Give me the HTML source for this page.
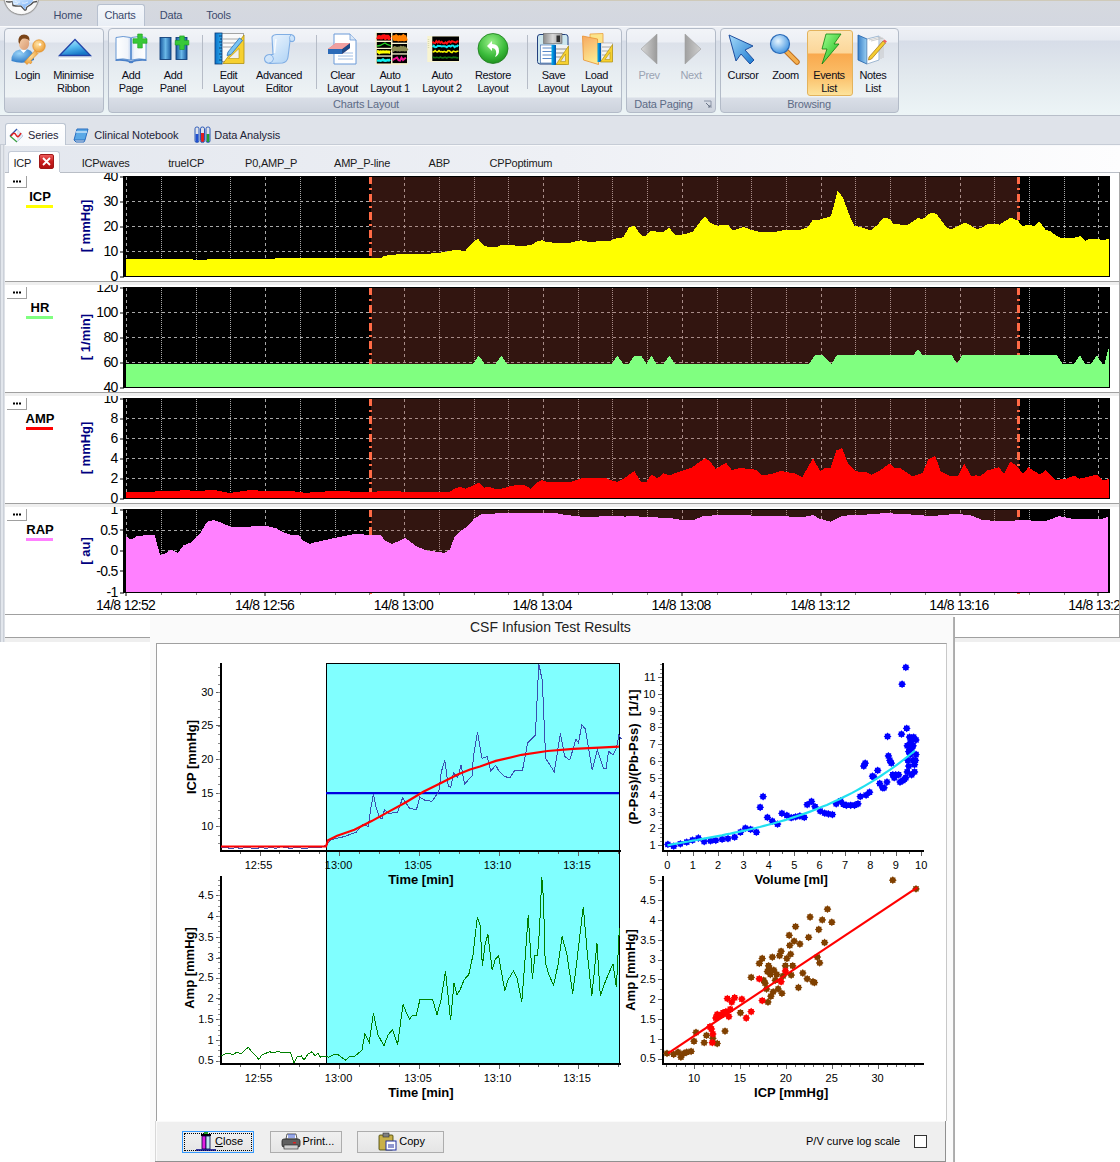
<!DOCTYPE html><html><head><meta charset="utf-8"><title>ICM+</title><style>
html,body{margin:0;padding:0;}
body{width:1120px;height:1162px;overflow:hidden;position:relative;background:#fff;font-family:"Liberation Sans", sans-serif;}
.t{position:absolute;white-space:nowrap;}
svg{position:absolute;left:0;top:0;overflow:visible;}
</style></head><body>
<div style="position:absolute;left:0px;top:0px;width:1120px;height:26px;background:linear-gradient(#d6d9df,#d3d7e0);"></div>
<div style="position:absolute;left:0px;top:0px;width:1120px;height:1px;background:#cfcab9;"></div>
<svg width="60" height="30" style="left:0;top:0"><defs><radialGradient id="apg" cx="0.5" cy="0.75" r="0.6"><stop offset="0" stop-color="#ffffff"/><stop offset="0.8" stop-color="#f2f2f2"/><stop offset="1" stop-color="#d8d8d8"/></radialGradient><linearGradient id="brg" x1="0" y1="0" x2="1" y2="1"><stop offset="0" stop-color="#d8ecff"/><stop offset="1" stop-color="#6aa8f8"/></linearGradient></defs><circle cx="21.3" cy="-2.3" r="18" fill="#a8a8a8" opacity="0.6"/><circle cx="21.3" cy="-2.6" r="17.2" fill="url(#apg)" stroke="#8c8c8c" stroke-width="0.8"/><path d="M6,1.5 Q9,2.5 12.5,1.5 L13,5.5 Q17,6.5 21,6 L24.5,10 Q26.5,10.5 26.5,8 L27,7 Q31,5 33.5,2 L37,1.5" fill="none" stroke="#303030" stroke-width="1.3" opacity="0.85"/><path d="M12.5,0 L12.8,3.5 Q14,5 18,5 Q21,5.2 22,5.8 L24.5,9 Q25.6,9.5 25.8,8 L25.5,6.5 Q30,4.5 32.8,1.5 L33,0 Z" fill="url(#brg)"/><path d="M15,1 Q17,3 20,2 M22,3 Q25,4 28,2 M14,3.5 Q16,4 18,3.5" stroke="#ffffff" stroke-width="0.8" fill="none" opacity="0.8"/></svg>
<div style="position:absolute;left:97px;top:4px;width:48px;height:22px;box-sizing:border-box;border:1px solid #b7c0cf;border-bottom:none;border-radius:3px 3px 0 0;background:linear-gradient(#f4f7fb,#e9eef5);"></div>
<div class="t" style="left:-132.2px;width:400px;text-align:center;top:7.8px;font-size:11px;line-height:14.3px;color:#3c4b6e;font-weight:normal;letter-spacing:-0.2px;">Home</div>
<div class="t" style="left:-80px;width:400px;text-align:center;top:7.8px;font-size:11px;line-height:14.3px;color:#3c4b6e;font-weight:normal;letter-spacing:-0.2px;">Charts</div>
<div class="t" style="left:-29px;width:400px;text-align:center;top:7.8px;font-size:11px;line-height:14.3px;color:#3c4b6e;font-weight:normal;letter-spacing:-0.2px;">Data</div>
<div class="t" style="left:18.5px;width:400px;text-align:center;top:7.8px;font-size:11px;line-height:14.3px;color:#3c4b6e;font-weight:normal;letter-spacing:-0.2px;">Tools</div>
<div style="position:absolute;left:0px;top:26px;width:1120px;height:90px;background:linear-gradient(#eef1f6 0px,#e6eaf1 14px,#d7dde8 15px,#e2e9ee 50px,#ecf4f6 87px);"></div>
<div style="position:absolute;left:0px;top:26px;width:1120px;height:1px;background:#f8f9fb;"></div>
<div style="position:absolute;left:0px;top:115px;width:1120px;height:1px;background:#b8bec9;"></div>
<div style="position:absolute;left:4px;top:28px;width:100.0px;height:85px;box-sizing:border-box;border:1px solid #b3bbc8;border-radius:4px;background:linear-gradient(#f2f4f8 0px,#eceff5 13px,#dce1ea 14px,#e6ecf1 40px,#eef3f5 68px,#d9dee7 69px,#ccd2dc 84px);overflow:hidden;"></div>
<div style="position:absolute;left:107.5px;top:28px;width:514.5px;height:85px;box-sizing:border-box;border:1px solid #b3bbc8;border-radius:4px;background:linear-gradient(#f2f4f8 0px,#eceff5 13px,#dce1ea 14px,#e6ecf1 40px,#eef3f5 68px,#d9dee7 69px,#ccd2dc 84px);overflow:hidden;"></div>
<div class="t" style="left:166px;width:400px;text-align:center;top:97.4px;font-size:11px;line-height:14.3px;color:#5d6b86;font-weight:normal;letter-spacing:-0.2px;">Charts Layout</div>
<div style="position:absolute;left:625.5px;top:28px;width:90.5px;height:85px;box-sizing:border-box;border:1px solid #b3bbc8;border-radius:4px;background:linear-gradient(#f2f4f8 0px,#eceff5 13px,#dce1ea 14px,#e6ecf1 40px,#eef3f5 68px,#d9dee7 69px,#ccd2dc 84px);overflow:hidden;"></div>
<div class="t" style="left:463.5px;width:400px;text-align:center;top:97.4px;font-size:11px;line-height:14.3px;color:#5d6b86;font-weight:normal;letter-spacing:-0.2px;">Data Paging</div>
<div style="position:absolute;left:719.5px;top:28px;width:179.0px;height:85px;box-sizing:border-box;border:1px solid #b3bbc8;border-radius:4px;background:linear-gradient(#f2f4f8 0px,#eceff5 13px,#dce1ea 14px,#e6ecf1 40px,#eef3f5 68px,#d9dee7 69px,#ccd2dc 84px);overflow:hidden;"></div>
<div class="t" style="left:609px;width:400px;text-align:center;top:97.4px;font-size:11px;line-height:14.3px;color:#5d6b86;font-weight:normal;letter-spacing:-0.2px;">Browsing</div>
<svg width="10" height="10" style="left:703px;top:100px"><path d="M1,1 H8 V8" fill="none" stroke="#8a94a6" stroke-width="1"/><path d="M3,3 L7,7 M5,7 H7 V5" stroke="#6a7486" stroke-width="1" fill="none"/></svg>
<div style="position:absolute;left:201.5px;top:35px;width:1px;height:54px;background:#b6bcc7;"></div>
<div style="position:absolute;left:315.5px;top:35px;width:1px;height:54px;background:#b6bcc7;"></div>
<div style="position:absolute;left:526.5px;top:35px;width:1px;height:54px;background:#b6bcc7;"></div>
<div style="position:absolute;left:807px;top:30px;width:46px;height:66px;box-sizing:border-box;border:1px solid #e3b35c;border-radius:3px;background:linear-gradient(#fde6b6 0px,#fcd699 22px,#f9a94e 23px,#fbbf69 45px,#fde59e 65px);"></div>
<div class="t" style="left:-172.5px;width:400px;text-align:center;top:67.8px;font-size:11px;line-height:14.3px;color:#0c0c18;font-weight:normal;letter-spacing:-0.35px;">Login</div>
<svg width="32" height="32" viewBox="0 0 32 32" style="left:11px;top:33px">
<defs><radialGradient id="lgb" cx="0.35" cy="0.3" r="0.8"><stop offset="0" stop-color="#9ad4f8"/><stop offset="1" stop-color="#1c6cc0"/></radialGradient>
<radialGradient id="lgk" cx="0.4" cy="0.35" r="0.7"><stop offset="0" stop-color="#ffe4a8"/><stop offset="1" stop-color="#eb9a30"/></radialGradient>
<linearGradient id="lgf" x1="0" y1="0" x2="1" y2="1"><stop offset="0" stop-color="#f8d4b0"/><stop offset="1" stop-color="#d89870"/></linearGradient></defs>
<path d="M0.5,28 Q0,18 9,16.5 L17,16.5 Q23,18 23,27 Q12,32 0.5,28 Z" fill="url(#lgb)"/>
<path d="M9,16.5 L12.5,20 L16,16.5 Z" fill="#fff"/>
<ellipse cx="13" cy="10" rx="5.2" ry="7" fill="url(#lgf)"/>
<path d="M7.5,9 Q7,1.5 13,1.5 Q19,1.5 18.5,8 Q17,5 13,5.5 Q9.5,5.5 8.5,11 Z" fill="#7a4418"/>
<circle cx="28" cy="13" r="6.2" fill="url(#lgk)" stroke="#e08a20" stroke-width="0.7"/>
<circle cx="29" cy="11.5" r="1.3" fill="#fff"/>
<path d="M24,17.5 L13.5,29 L16,31.5 L18,29.5 L19.5,31 L21,29 L20,27.5 L27,20.5 Z" fill="url(#lgk)" stroke="#e08a20" stroke-width="0.6"/>
</svg>
<div class="t" style="left:-126.5px;width:400px;text-align:center;top:67.8px;font-size:11px;line-height:14.3px;color:#0c0c18;font-weight:normal;letter-spacing:-0.35px;">Minimise</div>
<div class="t" style="left:-126.5px;width:400px;text-align:center;top:80.8px;font-size:11px;line-height:14.3px;color:#0c0c18;font-weight:normal;letter-spacing:-0.35px;">Ribbon</div>
<svg width="32" height="32" viewBox="0 0 32 32" style="left:58px;top:33px">
<defs><linearGradient id="mng" x1="0" y1="0" x2="0.4" y2="1"><stop offset="0" stop-color="#d0f0fc"/><stop offset="0.55" stop-color="#58bcf0"/><stop offset="1" stop-color="#1878c8"/></linearGradient></defs>
<path d="M1.5,22.5 L17,6.5 L32.5,22.5 Z" fill="url(#mng)" stroke="#2244a8" stroke-width="1.3" stroke-linejoin="miter"/>
<rect x="1" y="25" width="32" height="1.4" fill="#fff"/>
</svg>
<div class="t" style="left:-69px;width:400px;text-align:center;top:67.8px;font-size:11px;line-height:14.3px;color:#0c0c18;font-weight:normal;letter-spacing:-0.35px;">Add</div>
<div class="t" style="left:-69px;width:400px;text-align:center;top:80.8px;font-size:11px;line-height:14.3px;color:#0c0c18;font-weight:normal;letter-spacing:-0.35px;">Page</div>
<svg width="32" height="32" viewBox="0 0 32 32" style="left:115px;top:33px">
<defs><linearGradient id="apg1" x1="0" y1="0" x2="1" y2="0"><stop offset="0" stop-color="#ffffff"/><stop offset="0.8" stop-color="#f0f4fa"/><stop offset="1" stop-color="#c8d8f0"/></linearGradient>
<linearGradient id="apg2" x1="0" y1="0" x2="1" y2="0"><stop offset="0" stop-color="#c8d8f0"/><stop offset="0.2" stop-color="#f0f4fa"/><stop offset="1" stop-color="#ffffff"/></linearGradient></defs>
<path d="M1,4.5 Q8,2.5 15.5,4.5 L15.5,27 Q8,25 1,26.5 Z" fill="url(#apg1)" stroke="#5a8ed0" stroke-width="0.9"/>
<path d="M16.5,4.5 Q24,2.5 31,4.5 L31,26.5 Q24,25 16.5,27 Z" fill="url(#apg2)" stroke="#5a8ed0" stroke-width="0.9"/>
<path d="M0.5,26.5 Q8,25 16,28 Q24,25 31.5,26.5 L31.5,28 Q24,27 16,29.5 Q8,27 0.5,28 Z" fill="#4a80c8"/>
<ellipse cx="16" cy="29" rx="2.5" ry="1.3" fill="#4a80c8"/>
<path d="M18,5.7 H22.7 V1 H27.3 V5.7 H32 V10.3 H27.3 V15 H22.7 V10.3 H18 Z" fill="#38c838" stroke="#18a018" stroke-width="0.6"/>
</svg>
<div class="t" style="left:-27px;width:400px;text-align:center;top:67.8px;font-size:11px;line-height:14.3px;color:#0c0c18;font-weight:normal;letter-spacing:-0.35px;">Add</div>
<div class="t" style="left:-27px;width:400px;text-align:center;top:80.8px;font-size:11px;line-height:14.3px;color:#0c0c18;font-weight:normal;letter-spacing:-0.35px;">Panel</div>
<svg width="32" height="32" viewBox="0 0 32 32" style="left:158px;top:33px">
<defs><linearGradient id="apb" x1="0" y1="0" x2="1" y2="0"><stop offset="0" stop-color="#1a5aa0"/><stop offset="0.5" stop-color="#6ab8e8"/><stop offset="1" stop-color="#1a5aa0"/></linearGradient></defs>
<rect x="2" y="4.5" width="11" height="22" fill="url(#apb)" stroke="#12407a" stroke-width="0.9"/>
<rect x="18" y="4.5" width="11" height="22" fill="url(#apb)" stroke="#12407a" stroke-width="0.9"/>
<path d="M17.2,7.3999999999999995 H21.7 V2.8999999999999995 H26.3 V7.3999999999999995 H30.8 V12.0 H26.3 V16.5 H21.7 V12.0 H17.2 Z" fill="#38c838" stroke="#18a018" stroke-width="0.6"/>
</svg>
<div class="t" style="left:28.5px;width:400px;text-align:center;top:67.8px;font-size:11px;line-height:14.3px;color:#0c0c18;font-weight:normal;letter-spacing:-0.35px;">Edit</div>
<div class="t" style="left:28.5px;width:400px;text-align:center;top:80.8px;font-size:11px;line-height:14.3px;color:#0c0c18;font-weight:normal;letter-spacing:-0.35px;">Layout</div>
<svg width="32" height="32" viewBox="0 0 32 32" style="left:213px;top:33px">
<defs><linearGradient id="elr" x1="0" y1="0" x2="1" y2="0"><stop offset="0" stop-color="#0a70c8"/><stop offset="1" stop-color="#30b0f0"/></linearGradient></defs>
<rect x="8" y="0.5" width="22.5" height="28" fill="#fafafa" stroke="#909090" stroke-width="0.8"/>
<path d="M10,6 H28 M10,10 H28 M10,14 H28" stroke="#a0a0a0" stroke-width="0.9"/>
<rect x="2" y="0" width="7" height="31" fill="url(#elr)" stroke="#0a3a78" stroke-width="0.8"/>
<path d="M6,3 H9 M7,6 H9 M6,9 H9 M7,12 H9 M6,15 H9 M7,18 H9 M6,21 H9 M7,24 H9 M6,27 H9" stroke="#0a2a60" stroke-width="0.8"/>
<path d="M10,30.5 L31,2 L31,30.5 Z" fill="#f6d030" stroke="#b09010" stroke-width="0.8"/>
<path d="M15.5,25.5 L26,15.5 L26,25.5 Z" fill="#f0f0f0" stroke="#b09010" stroke-width="0.6"/>
<path d="M15,19 L26.5,5 L29.5,7.5 L18,21.5 L14,22.5 Z" fill="#7ac4f4" stroke="#2a70b8" stroke-width="0.8"/>
</svg>
<div class="t" style="left:79px;width:400px;text-align:center;top:67.8px;font-size:11px;line-height:14.3px;color:#0c0c18;font-weight:normal;letter-spacing:-0.35px;">Advanced</div>
<div class="t" style="left:79px;width:400px;text-align:center;top:80.8px;font-size:11px;line-height:14.3px;color:#0c0c18;font-weight:normal;letter-spacing:-0.35px;">Editor</div>
<svg width="32" height="32" viewBox="0 0 32 32" style="left:264px;top:33px">
<defs><linearGradient id="aeg" x1="0" y1="0" x2="1" y2="1"><stop offset="0" stop-color="#f4f9ff"/><stop offset="1" stop-color="#a8cff4"/></linearGradient></defs>
<path d="M8,4 Q9.5,1 14,1.5 L27,1.5 Q31.5,2.5 30.5,7 Q29,9.5 26,8 L24,24 Q23.5,29 18.5,30 L6,30.5 Q0.5,30 0.5,25.5 Q1.5,21.5 6,21.5 L9,21.5 Z" fill="url(#aeg)" stroke="#80aee4" stroke-width="1.1"/>
<path d="M6,21.5 Q9.5,22.5 9.5,26 Q8.5,30 5,30" fill="#cfe4fa" stroke="#80aee4" stroke-width="0.9"/>
<path d="M26,8 Q24.5,4 27,1.5" fill="none" stroke="#80aee4" stroke-width="0.9"/>
<path d="M12,6 Q11,14 10.5,20" stroke="#ffffff" stroke-width="1.5" fill="none" opacity="0.8"/>
</svg>
<div class="t" style="left:142.5px;width:400px;text-align:center;top:67.8px;font-size:11px;line-height:14.3px;color:#0c0c18;font-weight:normal;letter-spacing:-0.35px;">Clear</div>
<div class="t" style="left:142.5px;width:400px;text-align:center;top:80.8px;font-size:11px;line-height:14.3px;color:#0c0c18;font-weight:normal;letter-spacing:-0.35px;">Layout</div>
<svg width="32" height="32" viewBox="0 0 32 32" style="left:326px;top:33px">
<path d="M8,1 H24 L30,7 V31 H8 Z" fill="#fff" stroke="#6a9ad8" stroke-width="1"/>
<path d="M24,1 V7 H30" fill="#dce8f6" stroke="#6a9ad8" stroke-width="0.8"/>
<path d="M12,20 H27 M12,23 H27 M12,26 H27" stroke="#8ab0e0" stroke-width="0.8"/>
<path d="M2,16 L10,10 L24,10 L24,15 L16,21 L2,21 Z" fill="#e86060"/>
<path d="M2,16 L16,16 L16,21 L2,21 Z" fill="#2a6ab8"/>
<path d="M16,16 L24,10 L24,15 L16,21 Z" fill="#1a4a88"/>
<path d="M2,16 L10,10 L24,10 L16,16 Z" fill="#f0a0a0"/>
</svg>
<div class="t" style="left:190px;width:400px;text-align:center;top:67.8px;font-size:11px;line-height:14.3px;color:#0c0c18;font-weight:normal;letter-spacing:-0.35px;">Auto</div>
<div class="t" style="left:190px;width:400px;text-align:center;top:80.8px;font-size:11px;line-height:14.3px;color:#0c0c18;font-weight:normal;letter-spacing:-0.35px;">Layout 1</div>
<svg width="32" height="32" viewBox="0 0 32 32" style="left:375px;top:33px">
<rect x="0.5" y="-0.5" width="32" height="32.3" fill="#f8f2cc"/>
<rect x="1.8" y="0" width="14.2" height="7.6" fill="#000"/>
<rect x="1.8" y="9" width="14.2" height="5.8" fill="#000"/>
<rect x="1.8" y="16" width="14.2" height="6.4" fill="#000"/>
<rect x="1.8" y="23.7" width="14.2" height="6.8" fill="#000"/>
<rect x="17.5" y="0" width="14.5" height="9.7" fill="#000"/>
<rect x="17.5" y="11" width="14.5" height="9.3" fill="#000"/>
<rect x="17.5" y="21.6" width="14.5" height="8.5" fill="#000"/>
<path d="M2.0,3.8 L3.2,4.3 L4.4,4.0 L5.6,4.4 L6.8,4.4 L8.0,3.5 L9.2,3.4 L10.4,4.7 L11.6,3.8 L12.8,3.8 L14.0,5.0 L15.2,4.2" stroke="#ff1010" stroke-width="4" fill="none"/>
<path d="M17.5,5.5 L18.7,5.0 L19.9,5.2 L21.1,4.4 L22.3,5.2 L23.5,5.6 L24.7,5.0 L25.9,5.4 L27.1,5.3 L28.3,4.3 L29.5,5.4 L30.7,5.1 L31.9,4.7" stroke="#ff8000" stroke-width="5.5" fill="none"/>
<path d="M2,13 L5,12.5 L8,11 L10,10 L12,11.5 L14,12 L16,13" stroke="#20d020" stroke-width="1.3" fill="none"/>
<path d="M17.5,14.7 L18.7,16.1 L19.9,15.5 L21.1,15.9 L22.3,16.1 L23.5,15.8 L24.7,16.2 L25.9,15.3 L27.1,16.0 L28.3,15.4 L29.5,16.2 L30.7,16.1 L31.9,14.9" stroke="#8a8a50" stroke-width="4.5" fill="none"/>
<path d="M2.0,18.6 L3.2,18.7 L4.4,19.6 L5.6,18.9 L6.8,19.2 L8.0,18.8 L9.2,19.0 L10.4,18.9 L11.6,18.8 L12.8,19.1 L14.0,19.1 L15.2,19.5" stroke="#ffff00" stroke-width="3" fill="none"/>
<path d="M2.0,27.2 L3.2,27.5 L4.4,27.4 L5.6,27.6 L6.8,27.2 L8.0,26.6 L9.2,27.4 L10.4,27.6 L11.6,27.5 L12.8,27.1 L14.0,27.3 L15.2,26.7" stroke="#10f0f0" stroke-width="2.6" fill="none"/>
<path d="M17.5,27.1 L19.0,26.2 L20.5,25.3 L22.0,24.6 L23.5,27.1 L25.0,27.6 L26.5,24.7 L28.0,27.0 L29.5,25.7 L31.0,24.9" stroke="#f01090" stroke-width="2" fill="none"/>
</svg>
<div class="t" style="left:242px;width:400px;text-align:center;top:67.8px;font-size:11px;line-height:14.3px;color:#0c0c18;font-weight:normal;letter-spacing:-0.35px;">Auto</div>
<div class="t" style="left:242px;width:400px;text-align:center;top:80.8px;font-size:11px;line-height:14.3px;color:#0c0c18;font-weight:normal;letter-spacing:-0.35px;">Layout 2</div>
<svg width="32" height="32" viewBox="0 0 32 32" style="left:427px;top:33px">
<rect x="0.3" y="3" width="32" height="26" fill="#f8f4d0"/>
<rect x="5.3" y="3.5" width="26.7" height="24.5" fill="#000"/>
<path d="M1.5,6 V16" stroke="#d8d8b0" stroke-width="1.5" stroke-dasharray="1 1"/>
<path d="M5.5,8.8 L6.8,9.9 L8.1,10.2 L9.4,8.2 L10.7,9.6 L12.0,8.2 L13.3,9.8 L14.6,8.9 L15.9,10.2 L17.2,10.5 L18.5,9.3 L19.8,10.5 L21.1,8.8 L22.4,8.3 L23.7,9.5 L25.0,8.2 L26.3,8.6 L27.6,9.1 L28.9,9.6 L30.2,8.5 L31.5,8.2" stroke="#ff1010" stroke-width="2" fill="none"/>
<path d="M5.5,14.0 L6.8,12.7 L8.1,14.2 L9.4,14.1 L10.7,12.8 L12.0,13.0 L13.3,13.1 L14.6,13.4 L15.9,13.3 L17.2,13.2 L18.5,13.4 L19.8,14.2 L21.1,13.1 L22.4,12.9 L23.7,13.6 L25.0,12.5 L26.3,12.6 L27.6,14.2 L28.9,13.2 L30.2,13.2 L31.5,11.9" stroke="#10e8f0" stroke-width="2" fill="none"/>
<path d="M5.5,18.4 L6.8,18.8 L8.1,17.6 L9.4,18.8 L10.7,18.9 L12.0,17.7 L13.3,18.9 L14.6,18.5 L15.9,19.0 L17.2,18.3 L18.5,19.0 L19.8,19.1 L21.1,17.6 L22.4,17.7 L23.7,19.0 L25.0,19.5 L26.3,18.1 L27.6,18.5 L28.9,18.8 L30.2,18.2 L31.5,18.3" stroke="#f0f000" stroke-width="1.6" fill="none"/>
<path d="M5.5,24.4 L6.8,24.4 L8.1,24.7 L9.4,24.4 L10.7,24.5 L12.0,24.9 L13.3,24.0 L14.6,24.7 L15.9,24.9 L17.2,24.4 L18.5,24.3 L19.8,25.0 L21.1,24.3 L22.4,24.2 L23.7,24.5 L25.0,24.8 L26.3,24.1 L27.6,24.4 L28.9,24.4 L30.2,25.0 L31.5,24.5" stroke="#107010" stroke-width="1.6" fill="none"/>
</svg>
<div class="t" style="left:293px;width:400px;text-align:center;top:67.8px;font-size:11px;line-height:14.3px;color:#0c0c18;font-weight:normal;letter-spacing:-0.35px;">Restore</div>
<div class="t" style="left:293px;width:400px;text-align:center;top:80.8px;font-size:11px;line-height:14.3px;color:#0c0c18;font-weight:normal;letter-spacing:-0.35px;">Layout</div>
<svg width="32" height="32" viewBox="0 0 32 32" style="left:477px;top:33px">
<defs><radialGradient id="rsg" cx="0.45" cy="0.3" r="0.75"><stop offset="0" stop-color="#9af08a"/><stop offset="0.6" stop-color="#3cbc3c"/><stop offset="1" stop-color="#1a8a1a"/></radialGradient></defs>
<circle cx="16" cy="15.5" r="15" fill="url(#rsg)" stroke="#1a7a1a" stroke-width="0.8"/>
<path d="M10,13 L15,8 L15,11 Q22,11 22,18 Q22,22 18,24 Q20,21 19,18 Q18,15 15,15 L15,18 Z" fill="#fff"/>
</svg>
<div class="t" style="left:353.5px;width:400px;text-align:center;top:67.8px;font-size:11px;line-height:14.3px;color:#0c0c18;font-weight:normal;letter-spacing:-0.35px;">Save</div>
<div class="t" style="left:353.5px;width:400px;text-align:center;top:80.8px;font-size:11px;line-height:14.3px;color:#0c0c18;font-weight:normal;letter-spacing:-0.35px;">Layout</div>
<svg width="32" height="32" viewBox="0 0 32 32" style="left:537px;top:33px">
<defs><linearGradient id="svsh" x1="0" y1="0" x2="1" y2="0"><stop offset="0" stop-color="#8a8a8a"/><stop offset="0.5" stop-color="#d8d8d8"/><stop offset="1" stop-color="#9a9a9a"/></linearGradient>
<linearGradient id="svrl" x1="0" y1="0" x2="1" y2="0"><stop offset="0" stop-color="#00b0f0"/><stop offset="1" stop-color="#0050b0"/></linearGradient></defs>
<rect x="0.5" y="1.5" width="30.5" height="29.5" rx="2.5" fill="#cde6ee" stroke="#23407e" stroke-width="1"/>
<rect x="6.5" y="0.5" width="18.5" height="10" fill="url(#svsh)" stroke="#6a6a6a" stroke-width="0.6"/>
<rect x="19.5" y="2.5" width="3.5" height="6.5" fill="#303030"/>
<rect x="3.5" y="12" width="14" height="18" fill="#ffffff" stroke="#3060a8" stroke-width="0.6"/>
<path d="M5.5,15 H16 M5.5,18.5 H16 M5.5,22 H16 M5.5,25.5 H16" stroke="#5a88c8" stroke-width="1"/>
<rect x="18.5" y="12" width="13" height="19" fill="#f2f2f2"/><path d="M19,16 H31 M19,20 H31 M19,24 H31" stroke="#b0b0b0" stroke-width="1.4"/>
<rect x="14.5" y="12" width="4.5" height="20" fill="url(#svrl)"/>
<path d="M19,31.5 L31.5,13 L31.5,31.5 Z" fill="#f6d030" stroke="#b09010" stroke-width="0.7"/>
<path d="M23.5,28.5 L28.5,21 L28.5,28.5 Z" fill="#e8e8e8" stroke="#b09010" stroke-width="0.6"/>
</svg>
<div class="t" style="left:396.5px;width:400px;text-align:center;top:67.8px;font-size:11px;line-height:14.3px;color:#0c0c18;font-weight:normal;letter-spacing:-0.35px;">Load</div>
<div class="t" style="left:396.5px;width:400px;text-align:center;top:80.8px;font-size:11px;line-height:14.3px;color:#0c0c18;font-weight:normal;letter-spacing:-0.35px;">Layout</div>
<svg width="32" height="32" viewBox="0 0 32 32" style="left:581px;top:33px">
<defs><linearGradient id="ldg" x1="0" y1="0" x2="0.3" y2="1"><stop offset="0" stop-color="#f6a860"/><stop offset="1" stop-color="#fde890"/></linearGradient>
<linearGradient id="ldr" x1="0" y1="0" x2="1" y2="0"><stop offset="0" stop-color="#00b0f0"/><stop offset="1" stop-color="#0050b0"/></linearGradient></defs>
<path d="M9,1 L22,0.5 L22,26 L9,28 Z" fill="#fbe48a" stroke="#eaa040" stroke-width="0.8"/>
<path d="M1.5,3 L16.5,6 L17.5,31.5 L2.5,27 Z" fill="url(#ldg)" stroke="#e89030" stroke-width="0.8"/>
<rect x="20" y="10" width="11.5" height="18" fill="#f4f4f4" stroke="#9a9a9a" stroke-width="0.5"/>
<path d="M21,14 H30 M21,18 H30 M21,22 H30" stroke="#a8a8a8" stroke-width="1.2"/>
<rect x="16.5" y="10" width="3.5" height="19" fill="url(#ldr)"/>
<path d="M19.5,29 L31.5,11.5 L31.5,29 Z" fill="#f6d030" stroke="#b09010" stroke-width="0.7"/>
<path d="M24,26.5 L29,19.5 L29,26.5 Z" fill="#e8e8e8" stroke="#b09010" stroke-width="0.6"/>
</svg>
<div class="t" style="left:449px;width:400px;text-align:center;top:67.8px;font-size:11px;line-height:14.3px;color:#9aa3b3;font-weight:normal;letter-spacing:-0.35px;">Prev</div>
<svg width="32" height="32" viewBox="0 0 32 32" style="left:633px;top:33px">
<defs><linearGradient id="pvg" x1="0" y1="0" x2="1" y2="0"><stop offset="0" stop-color="#d8d8d8"/><stop offset="1" stop-color="#9a9a9a"/></linearGradient></defs>
<path d="M8,16 L24,1 L24,31 Z" fill="url(#pvg)" stroke="#a0a0a0" stroke-width="0.6"/>
</svg>
<div class="t" style="left:491px;width:400px;text-align:center;top:67.8px;font-size:11px;line-height:14.3px;color:#9aa3b3;font-weight:normal;letter-spacing:-0.35px;">Next</div>
<svg width="32" height="32" viewBox="0 0 32 32" style="left:675px;top:33px">
<defs><linearGradient id="nxg" x1="0" y1="0" x2="1" y2="0"><stop offset="0" stop-color="#a0a0a0"/><stop offset="1" stop-color="#cfcfcf"/></linearGradient></defs>
<path d="M10,1 L26,16 L10,31 Z" fill="url(#nxg)" stroke="#a0a0a0" stroke-width="0.6"/>
</svg>
<div class="t" style="left:543px;width:400px;text-align:center;top:67.8px;font-size:11px;line-height:14.3px;color:#0c0c18;font-weight:normal;letter-spacing:-0.35px;">Cursor</div>
<svg width="32" height="32" viewBox="0 0 32 32" style="left:727px;top:33px">
<defs><linearGradient id="crg" x1="0" y1="0" x2="1" y2="1"><stop offset="0" stop-color="#a8dcfa"/><stop offset="1" stop-color="#1a78d0"/></linearGradient></defs>
<path d="M2,2 L26,13 L18,17 L27,27 L23,31 L14,21 L9,28 Z" fill="url(#crg)" stroke="#1f4f9f" stroke-width="1"/>
</svg>
<div class="t" style="left:585.5px;width:400px;text-align:center;top:67.8px;font-size:11px;line-height:14.3px;color:#0c0c18;font-weight:normal;letter-spacing:-0.35px;">Zoom</div>
<svg width="32" height="32" viewBox="0 0 32 32" style="left:769px;top:33px">
<defs><radialGradient id="zmg" cx="0.4" cy="0.35" r="0.7"><stop offset="0" stop-color="#e8f6ff"/><stop offset="1" stop-color="#3a90e0"/></radialGradient></defs>
<path d="M17,18 L28,29" stroke="#c07020" stroke-width="5.5" stroke-linecap="round"/>
<path d="M17,18 L28,29" stroke="#f4b050" stroke-width="3.5" stroke-linecap="round"/>
<circle cx="11" cy="11" r="9.5" fill="url(#zmg)" stroke="#2a6ab8" stroke-width="1.2"/>
</svg>
<div class="t" style="left:629px;width:400px;text-align:center;top:67.8px;font-size:11px;line-height:14.3px;color:#0c0c18;font-weight:normal;letter-spacing:-0.35px;">Events</div>
<div class="t" style="left:629px;width:400px;text-align:center;top:80.8px;font-size:11px;line-height:14.3px;color:#0c0c18;font-weight:normal;letter-spacing:-0.35px;">List</div>
<svg width="32" height="32" viewBox="0 0 32 32" style="left:813px;top:33px">
<defs><linearGradient id="evg" x1="0" y1="0" x2="1" y2="1"><stop offset="0" stop-color="#a0ff90"/><stop offset="1" stop-color="#10b010"/></linearGradient></defs>
<path d="M13,1 L28,1 L21,11 L26,11 L9,31 L14,16 L9,16 Z" fill="url(#evg)" stroke="#108010" stroke-width="0.8"/>
</svg>
<div class="t" style="left:673px;width:400px;text-align:center;top:67.8px;font-size:11px;line-height:14.3px;color:#0c0c18;font-weight:normal;letter-spacing:-0.35px;">Notes</div>
<div class="t" style="left:673px;width:400px;text-align:center;top:80.8px;font-size:11px;line-height:14.3px;color:#0c0c18;font-weight:normal;letter-spacing:-0.35px;">List</div>
<svg width="32" height="32" viewBox="0 0 32 32" style="left:857px;top:33px">
<defs><linearGradient id="ntg" x1="0" y1="0" x2="1" y2="0"><stop offset="0" stop-color="#3a80c8"/><stop offset="1" stop-color="#9ad0f4"/></linearGradient></defs>
<path d="M1,2 L10,6 L10,31 L1,27 Z" fill="url(#ntg)" stroke="#1d5ea8" stroke-width="0.8"/>
<path d="M10,6 L22,3 L22,27 L10,31 Z" fill="#fff" stroke="#8aa8c8" stroke-width="0.8"/>
<path d="M12,7 L24,4 L24,26 M14,8 L26,5 L26,25" fill="none" stroke="#c0c0c0" stroke-width="0.8"/>
<path d="M12,24 L26,8 L28.5,10 L14.5,26 L11.5,27 Z" fill="#f4cc30" stroke="#a07010" stroke-width="0.7"/>
<path d="M26,8 L27.5,6.5 L30,8.5 L28.5,10 Z" fill="#f06060"/>
</svg>
<div style="position:absolute;left:0px;top:116px;width:1120px;height:29px;background:#dfe3ea;"></div>
<div style="position:absolute;left:4.5px;top:122.5px;width:61px;height:23.5px;box-sizing:border-box;border:1px solid #bcc5d2;border-bottom:none;border-radius:3px 3px 0 0;background:linear-gradient(#ffffff,#f7f9fc);"></div>
<div class="t" style="left:28px;top:127.8px;font-size:11px;line-height:14.3px;color:#1e2438;font-weight:normal;letter-spacing:-0.15px;">Series</div>
<div class="t" style="left:94.3px;top:127.8px;font-size:11px;line-height:14.3px;color:#1e2438;font-weight:normal;letter-spacing:-0.08px;">Clinical Notebook</div>
<div class="t" style="left:214.3px;top:127.8px;font-size:11px;line-height:14.3px;color:#1e2438;font-weight:normal;letter-spacing:-0.05px;">Data Analysis</div>
<svg width="20" height="16" style="left:8px;top:127px"><path d="M2,9 L9,2" stroke="#2b4fa8" stroke-width="1.2"/><path d="M2,9 L9,15" stroke="#3aa040" stroke-width="1.2"/><path d="M9,15 L15,9 L9,2" fill="#dfe9f5" stroke="#b8c8e0" stroke-width="0.8"/><path d="M3,9 Q6,4 8,8 T13,6" fill="none" stroke="#e02020" stroke-width="1.6"/></svg>
<svg width="18" height="16" style="left:73px;top:127px"><path d="M4,2 H15 L12,13 H1 Z" fill="#5aa9e6" stroke="#2a6fc0" stroke-width="1"/><path d="M3,5 H14" stroke="#c8e4fa" stroke-width="1.5"/><path d="M1,13 L3,15 H11 L12,13" fill="none" stroke="#2a6fc0" stroke-width="1"/></svg>
<svg width="18" height="18" style="left:194px;top:126px"><rect x="1.5" y="8" width="3" height="8" fill="#2050d0"/><rect x="7" y="7" width="3" height="9" fill="#e02020"/><rect x="12.5" y="8" width="3" height="8" fill="#20a030"/><rect x="1" y="1" width="4" height="15.5" rx="1.8" fill="none" stroke="#2a58b8"/><rect x="6.5" y="1" width="4" height="15.5" rx="1.8" fill="none" stroke="#2a58b8"/><rect x="12" y="1" width="4" height="15.5" rx="1.8" fill="none" stroke="#2a58b8"/></svg>
<div style="position:absolute;left:0px;top:144px;width:5px;height:1px;background:#c6ccd6;"></div>
<div style="position:absolute;left:65.5px;top:144px;width:1055px;height:1px;background:#c6ccd6;"></div>
<div style="position:absolute;left:0px;top:145px;width:1120px;height:27px;background:linear-gradient(90deg,#e3e7ee 0px,#eef0f5 560px,#fdfdfe 1120px);"></div>
<div style="position:absolute;left:5px;top:145px;width:1115px;height:1px;background:#f8f9fb;"></div>
<div style="position:absolute;left:8px;top:151px;width:52px;height:23px;box-sizing:border-box;border:1px solid #c3cad6;border-bottom:none;border-radius:3px 3px 0 0;background:#ffffff;"></div>
<div style="position:absolute;left:39px;top:154px;width:15px;height:15px;box-sizing:border-box;border:1px solid #a01818;border-radius:2px;background:linear-gradient(#ee5a5a,#c81e1e 50%,#b01010);"></div>
<svg width="15" height="15" style="left:39px;top:154px"><path d="M4,4 L11,11 M11,4 L4,11" stroke="#fff" stroke-width="1.8"/></svg>
<div class="t" style="left:13.4px;top:155.8px;font-size:11px;line-height:14.3px;color:#1a1a1a;font-weight:normal;letter-spacing:-0.2px;">ICP</div>
<div class="t" style="left:81.7px;top:155.8px;font-size:11px;line-height:14.3px;color:#1a1a1a;font-weight:normal;letter-spacing:-0.2px;">ICPwaves</div>
<div class="t" style="left:168.2px;top:155.8px;font-size:11px;line-height:14.3px;color:#1a1a1a;font-weight:normal;letter-spacing:-0.2px;">trueICP</div>
<div class="t" style="left:245px;top:155.8px;font-size:11px;line-height:14.3px;color:#1a1a1a;font-weight:normal;letter-spacing:-0.2px;">P0,AMP_P</div>
<div class="t" style="left:334px;top:155.8px;font-size:11px;line-height:14.3px;color:#1a1a1a;font-weight:normal;letter-spacing:-0.2px;">AMP_P-line</div>
<div class="t" style="left:428.5px;top:155.8px;font-size:11px;line-height:14.3px;color:#1a1a1a;font-weight:normal;letter-spacing:-0.2px;">ABP</div>
<div class="t" style="left:489.5px;top:155.8px;font-size:11px;line-height:14.3px;color:#1a1a1a;font-weight:normal;letter-spacing:-0.2px;">CPPoptimum</div>
<div style="position:absolute;left:0px;top:145px;width:5px;height:497px;background:linear-gradient(90deg,#c4c9d1 0px,#c4c9d1 1px,#e2e6ec 1.5px,#e2e6ec 2.5px,#ccd1d9 3px,#ccd1d9 4px,#f0f2f5 5px);"></div>
<div style="position:absolute;left:5px;top:172px;width:1114px;height:470px;background:#ffffff;"></div>
<div style="position:absolute;left:5px;top:172px;width:3.5px;height:1px;background:#b9bec6;"></div>
<div style="position:absolute;left:59.5px;top:172px;width:1060.5px;height:1px;background:#b9bec6;"></div>
<div style="position:absolute;left:1119px;top:172px;width:1px;height:466px;background:#a8a8a8;"></div>
<div style="position:absolute;left:5px;top:173px;width:1114px;height:108px;overflow:hidden;">
<div style="position:absolute;left:2px;top:3px;width:20px;height:12px;box-sizing:border-box;border-right:1px solid #a0a0a0;border-bottom:1px solid #a0a0a0;"></div>
<svg width="20" height="12" style="left:2px;top:3px"><rect x="6" y="4.5" width="2" height="2" fill="#000"/><rect x="9" y="4.5" width="2" height="2" fill="#000"/><rect x="12" y="4.5" width="2" height="2" fill="#000"/></svg>
<div class="t" style="left:10px;width:50px;text-align:center;top:16px;font-size:13px;line-height:16px;font-weight:bold;color:#000;">ICP</div>
<div style="position:absolute;left:21px;top:32px;width:27px;height:3px;background:#ffff00;"></div>
<div class="t" style="left:30.5px;top:45.0px;width:100px;height:16px;line-height:16px;text-align:center;font-size:13px;font-weight:bold;color:#000080;transform:rotate(-90deg);">[ mmHg]</div>
<div class="t" style="left:52.599999999999994px;width:60px;text-align:right;top:-5px;font-size:14px;line-height:16px;letter-spacing:-0.7px;color:#000;">40</div>
<div class="t" style="left:52.599999999999994px;width:60px;text-align:right;top:20.400000000000006px;font-size:14px;line-height:16px;letter-spacing:-0.7px;color:#000;">30</div>
<div class="t" style="left:52.599999999999994px;width:60px;text-align:right;top:45.30000000000001px;font-size:14px;line-height:16px;letter-spacing:-0.7px;color:#000;">20</div>
<div class="t" style="left:52.599999999999994px;width:60px;text-align:right;top:70.1px;font-size:14px;line-height:16px;letter-spacing:-0.7px;color:#000;">10</div>
<div class="t" style="left:52.599999999999994px;width:60px;text-align:right;top:95px;font-size:14px;line-height:16px;letter-spacing:-0.7px;color:#000;">0</div>
<svg width="1120" height="108" viewBox="5 173 1120 108" style="left:0;top:0" shape-rendering="crispEdges"><rect x="120" y="175.5" width="4" height="2" fill="#808080"/><rect x="120" y="200.9" width="4" height="2" fill="#808080"/><rect x="120" y="225.8" width="4" height="2" fill="#808080"/><rect x="120" y="250.6" width="4" height="2" fill="#808080"/><rect x="120" y="275.5" width="4" height="2" fill="#808080"/><rect x="124" y="176" width="986" height="101" fill="#000"/><rect x="370.5" y="177" width="648.0" height="99" fill="#321510"/><path d="M126,201.5 H370" stroke="#a8a8a8" stroke-dasharray="3 3" shape-rendering="crispEdges"/><path d="M373,201.5 H1018" stroke="#a88c88" stroke-dasharray="3 3" shape-rendering="crispEdges"/><path d="M1021,201.5 H1109" stroke="#a8a8a8" stroke-dasharray="3 3" shape-rendering="crispEdges"/><path d="M126,226.5 H370" stroke="#a8a8a8" stroke-dasharray="3 3" shape-rendering="crispEdges"/><path d="M373,226.5 H1018" stroke="#a88c88" stroke-dasharray="3 3" shape-rendering="crispEdges"/><path d="M1021,226.5 H1109" stroke="#a8a8a8" stroke-dasharray="3 3" shape-rendering="crispEdges"/><path d="M126,251.5 H370" stroke="#a8a8a8" stroke-dasharray="3 3" shape-rendering="crispEdges"/><path d="M373,251.5 H1018" stroke="#a88c88" stroke-dasharray="3 3" shape-rendering="crispEdges"/><path d="M1021,251.5 H1109" stroke="#a8a8a8" stroke-dasharray="3 3" shape-rendering="crispEdges"/><path d="M126.5,177 V276" stroke="#a8a8a8" stroke-dasharray="3 3"/><path d="M161.5,177 V276" stroke="#a8a8a8" stroke-dasharray="1 1"/><path d="M196.5,177 V276" stroke="#a8a8a8" stroke-dasharray="1 1"/><path d="M230.5,177 V276" stroke="#a8a8a8" stroke-dasharray="1 1"/><path d="M265.5,177 V276" stroke="#a8a8a8" stroke-dasharray="3 3"/><path d="M300.5,177 V276" stroke="#a8a8a8" stroke-dasharray="1 1"/><path d="M335.5,177 V276" stroke="#a8a8a8" stroke-dasharray="1 1"/><path d="M404.5,177 V276" stroke="#a88c88" stroke-dasharray="3 3"/><path d="M439.5,177 V276" stroke="#a88c88" stroke-dasharray="1 1"/><path d="M474.5,177 V276" stroke="#a88c88" stroke-dasharray="1 1"/><path d="M508.5,177 V276" stroke="#a88c88" stroke-dasharray="1 1"/><path d="M543.5,177 V276" stroke="#a88c88" stroke-dasharray="3 3"/><path d="M578.5,177 V276" stroke="#a88c88" stroke-dasharray="1 1"/><path d="M612.5,177 V276" stroke="#a88c88" stroke-dasharray="1 1"/><path d="M647.5,177 V276" stroke="#a88c88" stroke-dasharray="1 1"/><path d="M682.5,177 V276" stroke="#a88c88" stroke-dasharray="3 3"/><path d="M717.5,177 V276" stroke="#a88c88" stroke-dasharray="1 1"/><path d="M751.5,177 V276" stroke="#a88c88" stroke-dasharray="1 1"/><path d="M786.5,177 V276" stroke="#a88c88" stroke-dasharray="1 1"/><path d="M821.5,177 V276" stroke="#a88c88" stroke-dasharray="3 3"/><path d="M855.5,177 V276" stroke="#a88c88" stroke-dasharray="1 1"/><path d="M890.5,177 V276" stroke="#a88c88" stroke-dasharray="1 1"/><path d="M925.5,177 V276" stroke="#a88c88" stroke-dasharray="1 1"/><path d="M960.5,177 V276" stroke="#a88c88" stroke-dasharray="3 3"/><path d="M994.5,177 V276" stroke="#a88c88" stroke-dasharray="1 1"/><path d="M1029.5,177 V276" stroke="#a8a8a8" stroke-dasharray="1 1"/><path d="M1064.5,177 V276" stroke="#a8a8a8" stroke-dasharray="1 1"/><path d="M1098.5,177 V276" stroke="#a8a8a8" stroke-dasharray="3 3"/><path d="M370.5,176 V278" stroke="#ff6a45" stroke-width="3" stroke-dasharray="8 4 2 4" shape-rendering="auto"/><path d="M1018.5,176 V278" stroke="#ff6a45" stroke-width="3" stroke-dasharray="8 4 2 4" shape-rendering="auto"/><path d="M126.0,276.0 L126.0,259.0 L150.0,259.5 L175.0,259.0 L200.0,259.7 L225.0,259.0 L250.0,259.5 L275.0,258.5 L300.0,258.0 L330.0,258.3 L360.0,258.0 L365.0,258.1 L381.7,257.5 L384.0,255.9 L399.6,254.1 L411.9,254.3 L423.0,254.0 L438.7,253.0 L454.3,250.1 L465.4,250.8 L469.9,245.2 L477.7,238.5 L483.3,245.2 L488.9,247.4 L496.7,247.0 L501.2,245.2 L510.0,245.2 L521.3,245.9 L531.3,245.2 L536.9,241.4 L542.5,240.3 L545.8,241.8 L557.0,243.0 L568.0,243.4 L576.0,241.2 L581.5,240.3 L588.0,241.8 L599.4,241.4 L610.5,240.7 L616.7,238.0 L623.4,237.4 L629.0,226.9 L634.6,226.2 L641.2,235.2 L645.7,236.3 L651.3,230.7 L662.5,232.5 L669.2,228.0 L675.8,235.2 L685.9,234.0 L692.6,231.8 L699.3,222.9 L704.9,216.2 L710.4,222.9 L717.1,225.6 L728.3,225.1 L732.8,230.7 L743.9,226.9 L751.7,230.0 L761.8,232.3 L773.0,232.3 L784.1,230.0 L799.7,230.0 L807.5,227.3 L813.1,219.5 L819.8,219.5 L831.0,216.2 L837.7,190.5 L843.3,198.3 L848.8,214.0 L854.4,225.6 L860.0,226.9 L864.2,228.3 L871.0,230.4 L878.0,224.2 L883.7,217.3 L889.4,219.1 L894.0,224.2 L907.8,224.9 L918.1,218.0 L922.7,219.1 L930.7,212.7 L936.5,213.9 L946.8,227.6 L951.4,229.5 L965.1,222.4 L976.6,228.8 L981.2,228.3 L988.1,223.5 L999.6,224.6 L1011.0,217.3 L1017.9,220.7 L1022.5,226.0 L1029.4,224.6 L1034.0,226.5 L1039.7,221.4 L1045.5,229.9 L1050.0,231.0 L1058.0,236.8 L1061.5,238.4 L1075.3,237.5 L1081.0,236.1 L1085.6,241.0 L1089.0,239.1 L1098.2,239.1 L1102.8,240.2 L1108.5,239.1 L1108.5,276.0 Z" fill="#ffff00" shape-rendering="crispEdges"/><rect x="124.5" y="176.5" width="985" height="100" fill="none" stroke="#000" stroke-width="1"/><path d="M124,176 V277" stroke="#000" stroke-width="2"/><path d="M124,276.5 H1110" stroke="#000" stroke-width="1"/></svg>
</div>
<div style="position:absolute;left:5px;top:281px;width:1114px;height:1px;background:#a0a0a0;"></div>
<div style="position:absolute;left:5px;top:282px;width:1114px;height:3px;background:#efefef;"></div>
<div style="position:absolute;left:5px;top:285px;width:1114px;height:107px;overflow:hidden;">
<div style="position:absolute;left:2px;top:2px;width:20px;height:12px;box-sizing:border-box;border-right:1px solid #a0a0a0;border-bottom:1px solid #a0a0a0;"></div>
<svg width="20" height="12" style="left:2px;top:2px"><rect x="6" y="4.5" width="2" height="2" fill="#000"/><rect x="9" y="4.5" width="2" height="2" fill="#000"/><rect x="12" y="4.5" width="2" height="2" fill="#000"/></svg>
<div class="t" style="left:10px;width:50px;text-align:center;top:15px;font-size:13px;line-height:16px;font-weight:bold;color:#000;">HR</div>
<div style="position:absolute;left:21px;top:31px;width:27px;height:3px;background:#80ff80;"></div>
<div class="t" style="left:30.5px;top:44.0px;width:100px;height:16px;line-height:16px;text-align:center;font-size:13px;font-weight:bold;color:#000080;transform:rotate(-90deg);">[ 1/min]</div>
<div class="t" style="left:52.599999999999994px;width:60px;text-align:right;top:-6px;font-size:14px;line-height:16px;letter-spacing:-0.7px;color:#000;">120</div>
<div class="t" style="left:52.599999999999994px;width:60px;text-align:right;top:19px;font-size:14px;line-height:16px;letter-spacing:-0.7px;color:#000;">100</div>
<div class="t" style="left:52.599999999999994px;width:60px;text-align:right;top:44px;font-size:14px;line-height:16px;letter-spacing:-0.7px;color:#000;">80</div>
<div class="t" style="left:52.599999999999994px;width:60px;text-align:right;top:69px;font-size:14px;line-height:16px;letter-spacing:-0.7px;color:#000;">60</div>
<div class="t" style="left:52.599999999999994px;width:60px;text-align:right;top:94px;font-size:14px;line-height:16px;letter-spacing:-0.7px;color:#000;">40</div>
<svg width="1120" height="107" viewBox="5 285 1120 107" style="left:0;top:0" shape-rendering="crispEdges"><rect x="120" y="286.5" width="4" height="2" fill="#808080"/><rect x="120" y="311.5" width="4" height="2" fill="#808080"/><rect x="120" y="336.5" width="4" height="2" fill="#808080"/><rect x="120" y="361.5" width="4" height="2" fill="#808080"/><rect x="120" y="386.5" width="4" height="2" fill="#808080"/><rect x="124" y="287" width="986" height="101" fill="#000"/><rect x="370.5" y="288" width="648.0" height="99" fill="#321510"/><path d="M126,312.5 H370" stroke="#a8a8a8" stroke-dasharray="3 3" shape-rendering="crispEdges"/><path d="M373,312.5 H1018" stroke="#a88c88" stroke-dasharray="3 3" shape-rendering="crispEdges"/><path d="M1021,312.5 H1109" stroke="#a8a8a8" stroke-dasharray="3 3" shape-rendering="crispEdges"/><path d="M126,337.5 H370" stroke="#a8a8a8" stroke-dasharray="3 3" shape-rendering="crispEdges"/><path d="M373,337.5 H1018" stroke="#a88c88" stroke-dasharray="3 3" shape-rendering="crispEdges"/><path d="M1021,337.5 H1109" stroke="#a8a8a8" stroke-dasharray="3 3" shape-rendering="crispEdges"/><path d="M126,362.5 H370" stroke="#a8a8a8" stroke-dasharray="3 3" shape-rendering="crispEdges"/><path d="M373,362.5 H1018" stroke="#a88c88" stroke-dasharray="3 3" shape-rendering="crispEdges"/><path d="M1021,362.5 H1109" stroke="#a8a8a8" stroke-dasharray="3 3" shape-rendering="crispEdges"/><path d="M126.5,288 V387" stroke="#a8a8a8" stroke-dasharray="3 3"/><path d="M161.5,288 V387" stroke="#a8a8a8" stroke-dasharray="1 1"/><path d="M196.5,288 V387" stroke="#a8a8a8" stroke-dasharray="1 1"/><path d="M230.5,288 V387" stroke="#a8a8a8" stroke-dasharray="1 1"/><path d="M265.5,288 V387" stroke="#a8a8a8" stroke-dasharray="3 3"/><path d="M300.5,288 V387" stroke="#a8a8a8" stroke-dasharray="1 1"/><path d="M335.5,288 V387" stroke="#a8a8a8" stroke-dasharray="1 1"/><path d="M404.5,288 V387" stroke="#a88c88" stroke-dasharray="3 3"/><path d="M439.5,288 V387" stroke="#a88c88" stroke-dasharray="1 1"/><path d="M474.5,288 V387" stroke="#a88c88" stroke-dasharray="1 1"/><path d="M508.5,288 V387" stroke="#a88c88" stroke-dasharray="1 1"/><path d="M543.5,288 V387" stroke="#a88c88" stroke-dasharray="3 3"/><path d="M578.5,288 V387" stroke="#a88c88" stroke-dasharray="1 1"/><path d="M612.5,288 V387" stroke="#a88c88" stroke-dasharray="1 1"/><path d="M647.5,288 V387" stroke="#a88c88" stroke-dasharray="1 1"/><path d="M682.5,288 V387" stroke="#a88c88" stroke-dasharray="3 3"/><path d="M717.5,288 V387" stroke="#a88c88" stroke-dasharray="1 1"/><path d="M751.5,288 V387" stroke="#a88c88" stroke-dasharray="1 1"/><path d="M786.5,288 V387" stroke="#a88c88" stroke-dasharray="1 1"/><path d="M821.5,288 V387" stroke="#a88c88" stroke-dasharray="3 3"/><path d="M855.5,288 V387" stroke="#a88c88" stroke-dasharray="1 1"/><path d="M890.5,288 V387" stroke="#a88c88" stroke-dasharray="1 1"/><path d="M925.5,288 V387" stroke="#a88c88" stroke-dasharray="1 1"/><path d="M960.5,288 V387" stroke="#a88c88" stroke-dasharray="3 3"/><path d="M994.5,288 V387" stroke="#a88c88" stroke-dasharray="1 1"/><path d="M1029.5,288 V387" stroke="#a8a8a8" stroke-dasharray="1 1"/><path d="M1064.5,288 V387" stroke="#a8a8a8" stroke-dasharray="1 1"/><path d="M1098.5,288 V387" stroke="#a8a8a8" stroke-dasharray="3 3"/><path d="M370.5,287 V389" stroke="#ff6a45" stroke-width="3" stroke-dasharray="8 4 2 4" shape-rendering="auto"/><path d="M1018.5,287 V389" stroke="#ff6a45" stroke-width="3" stroke-dasharray="8 4 2 4" shape-rendering="auto"/><path d="M126.0,387.0 L126.0,363.8 L473.0,363.8 L478.8,355.6 L484.6,363.8 L495.5,363.8 L501.3,355.6 L507.1,363.8 L611.6,363.8 L617.4,355.6 L623.2,363.8 L628.6,363.8 L634.4,355.6 L641.0,355.6 L646.6,363.8 L646.5,363.8 L651.5,355.6 L656.5,363.8 L663.5,363.8 L669.3,355.6 L675.1,363.8 L809.0,363.8 L815.0,355.3 L823.0,355.3 L831.7,363.8 L836.8,355.3 L913.0,355.3 L918.0,349.5 L923.0,355.3 L952.0,355.3 L957.0,363.8 L962.0,355.3 L1057.0,355.3 L1062.5,363.8 L1074.0,363.8 L1080.0,355.3 L1085.0,363.8 L1091.0,363.8 L1097.0,355.3 L1102.0,363.8 L1104.5,363.8 L1108.5,348.5 L1108.5,387.0 Z" fill="#80ff80" shape-rendering="crispEdges"/><rect x="124.5" y="287.5" width="985" height="100" fill="none" stroke="#000" stroke-width="1"/><path d="M124,287 V388" stroke="#000" stroke-width="2"/><path d="M124,387.5 H1110" stroke="#000" stroke-width="1"/></svg>
</div>
<div style="position:absolute;left:5px;top:392px;width:1114px;height:1px;background:#a0a0a0;"></div>
<div style="position:absolute;left:5px;top:393px;width:1114px;height:3px;background:#efefef;"></div>
<div style="position:absolute;left:5px;top:396px;width:1114px;height:107px;overflow:hidden;">
<div style="position:absolute;left:2px;top:2px;width:20px;height:12px;box-sizing:border-box;border-right:1px solid #a0a0a0;border-bottom:1px solid #a0a0a0;"></div>
<svg width="20" height="12" style="left:2px;top:2px"><rect x="6" y="4.5" width="2" height="2" fill="#000"/><rect x="9" y="4.5" width="2" height="2" fill="#000"/><rect x="12" y="4.5" width="2" height="2" fill="#000"/></svg>
<div class="t" style="left:10px;width:50px;text-align:center;top:15px;font-size:13px;line-height:16px;font-weight:bold;color:#000;">AMP</div>
<div style="position:absolute;left:21px;top:31px;width:27px;height:3px;background:#ff0000;"></div>
<div class="t" style="left:30.5px;top:44.0px;width:100px;height:16px;line-height:16px;text-align:center;font-size:13px;font-weight:bold;color:#000080;transform:rotate(-90deg);">[ mmHg]</div>
<div class="t" style="left:52.599999999999994px;width:60px;text-align:right;top:-6px;font-size:14px;line-height:16px;letter-spacing:-0.7px;color:#000;">10</div>
<div class="t" style="left:52.599999999999994px;width:60px;text-align:right;top:14px;font-size:14px;line-height:16px;letter-spacing:-0.7px;color:#000;">8</div>
<div class="t" style="left:52.599999999999994px;width:60px;text-align:right;top:34px;font-size:14px;line-height:16px;letter-spacing:-0.7px;color:#000;">6</div>
<div class="t" style="left:52.599999999999994px;width:60px;text-align:right;top:54px;font-size:14px;line-height:16px;letter-spacing:-0.7px;color:#000;">4</div>
<div class="t" style="left:52.599999999999994px;width:60px;text-align:right;top:74px;font-size:14px;line-height:16px;letter-spacing:-0.7px;color:#000;">2</div>
<div class="t" style="left:52.599999999999994px;width:60px;text-align:right;top:94px;font-size:14px;line-height:16px;letter-spacing:-0.7px;color:#000;">0</div>
<svg width="1120" height="107" viewBox="5 396 1120 107" style="left:0;top:0" shape-rendering="crispEdges"><rect x="120" y="397.5" width="4" height="2" fill="#808080"/><rect x="120" y="417.5" width="4" height="2" fill="#808080"/><rect x="120" y="437.5" width="4" height="2" fill="#808080"/><rect x="120" y="457.5" width="4" height="2" fill="#808080"/><rect x="120" y="477.5" width="4" height="2" fill="#808080"/><rect x="120" y="497.5" width="4" height="2" fill="#808080"/><rect x="124" y="398" width="986" height="101" fill="#000"/><rect x="370.5" y="399" width="648.0" height="99" fill="#321510"/><path d="M126,418.5 H370" stroke="#a8a8a8" stroke-dasharray="3 3" shape-rendering="crispEdges"/><path d="M373,418.5 H1018" stroke="#a88c88" stroke-dasharray="3 3" shape-rendering="crispEdges"/><path d="M1021,418.5 H1109" stroke="#a8a8a8" stroke-dasharray="3 3" shape-rendering="crispEdges"/><path d="M126,438.5 H370" stroke="#a8a8a8" stroke-dasharray="3 3" shape-rendering="crispEdges"/><path d="M373,438.5 H1018" stroke="#a88c88" stroke-dasharray="3 3" shape-rendering="crispEdges"/><path d="M1021,438.5 H1109" stroke="#a8a8a8" stroke-dasharray="3 3" shape-rendering="crispEdges"/><path d="M126,458.5 H370" stroke="#a8a8a8" stroke-dasharray="3 3" shape-rendering="crispEdges"/><path d="M373,458.5 H1018" stroke="#a88c88" stroke-dasharray="3 3" shape-rendering="crispEdges"/><path d="M1021,458.5 H1109" stroke="#a8a8a8" stroke-dasharray="3 3" shape-rendering="crispEdges"/><path d="M126,478.5 H370" stroke="#a8a8a8" stroke-dasharray="3 3" shape-rendering="crispEdges"/><path d="M373,478.5 H1018" stroke="#a88c88" stroke-dasharray="3 3" shape-rendering="crispEdges"/><path d="M1021,478.5 H1109" stroke="#a8a8a8" stroke-dasharray="3 3" shape-rendering="crispEdges"/><path d="M126.5,399 V498" stroke="#a8a8a8" stroke-dasharray="3 3"/><path d="M161.5,399 V498" stroke="#a8a8a8" stroke-dasharray="1 1"/><path d="M196.5,399 V498" stroke="#a8a8a8" stroke-dasharray="1 1"/><path d="M230.5,399 V498" stroke="#a8a8a8" stroke-dasharray="1 1"/><path d="M265.5,399 V498" stroke="#a8a8a8" stroke-dasharray="3 3"/><path d="M300.5,399 V498" stroke="#a8a8a8" stroke-dasharray="1 1"/><path d="M335.5,399 V498" stroke="#a8a8a8" stroke-dasharray="1 1"/><path d="M404.5,399 V498" stroke="#a88c88" stroke-dasharray="3 3"/><path d="M439.5,399 V498" stroke="#a88c88" stroke-dasharray="1 1"/><path d="M474.5,399 V498" stroke="#a88c88" stroke-dasharray="1 1"/><path d="M508.5,399 V498" stroke="#a88c88" stroke-dasharray="1 1"/><path d="M543.5,399 V498" stroke="#a88c88" stroke-dasharray="3 3"/><path d="M578.5,399 V498" stroke="#a88c88" stroke-dasharray="1 1"/><path d="M612.5,399 V498" stroke="#a88c88" stroke-dasharray="1 1"/><path d="M647.5,399 V498" stroke="#a88c88" stroke-dasharray="1 1"/><path d="M682.5,399 V498" stroke="#a88c88" stroke-dasharray="3 3"/><path d="M717.5,399 V498" stroke="#a88c88" stroke-dasharray="1 1"/><path d="M751.5,399 V498" stroke="#a88c88" stroke-dasharray="1 1"/><path d="M786.5,399 V498" stroke="#a88c88" stroke-dasharray="1 1"/><path d="M821.5,399 V498" stroke="#a88c88" stroke-dasharray="3 3"/><path d="M855.5,399 V498" stroke="#a88c88" stroke-dasharray="1 1"/><path d="M890.5,399 V498" stroke="#a88c88" stroke-dasharray="1 1"/><path d="M925.5,399 V498" stroke="#a88c88" stroke-dasharray="1 1"/><path d="M960.5,399 V498" stroke="#a88c88" stroke-dasharray="3 3"/><path d="M994.5,399 V498" stroke="#a88c88" stroke-dasharray="1 1"/><path d="M1029.5,399 V498" stroke="#a8a8a8" stroke-dasharray="1 1"/><path d="M1064.5,399 V498" stroke="#a8a8a8" stroke-dasharray="1 1"/><path d="M1098.5,399 V498" stroke="#a8a8a8" stroke-dasharray="3 3"/><path d="M370.5,398 V500" stroke="#ff6a45" stroke-width="3" stroke-dasharray="8 4 2 4" shape-rendering="auto"/><path d="M1018.5,398 V500" stroke="#ff6a45" stroke-width="3" stroke-dasharray="8 4 2 4" shape-rendering="auto"/><path d="M126.0,498.0 L126.0,492.5 L130.0,491.5 L140.0,491.8 L150.0,492.0 L160.0,491.0 L170.0,491.0 L180.0,490.5 L185.0,490.0 L195.0,491.0 L205.0,490.5 L212.0,489.8 L220.0,491.0 L229.0,493.0 L240.0,491.5 L252.0,489.8 L262.0,491.0 L275.0,491.5 L290.0,491.0 L300.0,492.0 L305.0,493.0 L315.0,492.0 L325.0,491.5 L340.0,491.0 L350.0,491.5 L360.0,492.5 L371.6,491.8 L394.8,490.6 L406.4,492.2 L434.3,492.2 L450.5,491.5 L455.2,488.3 L459.8,486.9 L465.6,488.7 L473.7,485.3 L478.4,482.5 L484.2,487.6 L488.8,486.9 L494.6,488.7 L501.6,488.7 L510.9,486.0 L517.8,484.8 L524.8,485.3 L530.6,488.7 L536.4,483.0 L542.2,480.0 L546.9,481.8 L557.3,482.5 L571.2,481.8 L581.7,478.3 L606.0,478.3 L610.7,480.0 L617.0,481.8 L624.0,478.3 L634.4,470.9 L640.2,481.3 L646.0,482.5 L651.3,474.4 L657.6,478.3 L663.4,473.2 L669.2,475.5 L675.0,473.2 L682.0,470.9 L691.2,467.9 L705.2,458.1 L709.8,460.9 L715.6,469.0 L726.0,462.7 L731.9,470.2 L740.0,467.9 L756.2,469.7 L762.0,475.5 L772.5,473.7 L780.6,470.9 L788.7,472.5 L795.7,473.7 L802.2,477.1 L813.1,458.1 L820.1,471.3 L825.9,467.4 L830.5,468.3 L836.3,450.4 L842.1,448.1 L847.9,463.2 L856.0,471.3 L866.8,472.3 L871.4,474.6 L880.5,470.0 L889.6,463.5 L894.2,467.8 L901.0,468.5 L912.4,476.4 L922.6,473.0 L928.3,459.4 L935.1,455.9 L940.8,471.4 L951.0,476.4 L957.9,476.4 L964.3,463.9 L971.6,476.4 L976.1,475.3 L980.7,476.0 L987.5,470.3 L998.9,467.3 L1003.9,473.7 L1010.3,461.6 L1017.1,466.2 L1022.8,473.7 L1028.5,467.3 L1039.9,474.6 L1045.6,470.3 L1055.8,479.8 L1064.9,479.2 L1074.0,475.7 L1079.7,478.7 L1096.8,474.6 L1103.6,480.5 L1108.6,479.2 L1108.6,498.0 Z" fill="#ff0000" shape-rendering="crispEdges"/><rect x="124.5" y="398.5" width="985" height="100" fill="none" stroke="#000" stroke-width="1"/><path d="M124,398 V499" stroke="#000" stroke-width="2"/><path d="M124,498.5 H1110" stroke="#000" stroke-width="1"/></svg>
</div>
<div style="position:absolute;left:5px;top:503px;width:1114px;height:1px;background:#a0a0a0;"></div>
<div style="position:absolute;left:5px;top:504px;width:1114px;height:3px;background:#efefef;"></div>
<div style="position:absolute;left:5px;top:507px;width:1114px;height:107px;overflow:hidden;">
<div style="position:absolute;left:2px;top:2px;width:20px;height:12px;box-sizing:border-box;border-right:1px solid #a0a0a0;border-bottom:1px solid #a0a0a0;"></div>
<svg width="20" height="12" style="left:2px;top:2px"><rect x="6" y="4.5" width="2" height="2" fill="#000"/><rect x="9" y="4.5" width="2" height="2" fill="#000"/><rect x="12" y="4.5" width="2" height="2" fill="#000"/></svg>
<div class="t" style="left:10px;width:50px;text-align:center;top:15px;font-size:13px;line-height:16px;font-weight:bold;color:#000;">RAP</div>
<div style="position:absolute;left:21px;top:31px;width:27px;height:3px;background:#ff80ff;"></div>
<div class="t" style="left:30.5px;top:35.5px;width:100px;height:16px;line-height:16px;text-align:center;font-size:13px;font-weight:bold;color:#000080;transform:rotate(-90deg);">[ au]</div>
<div class="t" style="left:52.599999999999994px;width:60px;text-align:right;top:-6px;font-size:14px;line-height:16px;letter-spacing:-0.7px;color:#000;">1</div>
<div class="t" style="left:52.599999999999994px;width:60px;text-align:right;top:14.799999999999955px;font-size:14px;line-height:16px;letter-spacing:-0.7px;color:#000;">0.5</div>
<div class="t" style="left:52.599999999999994px;width:60px;text-align:right;top:35px;font-size:14px;line-height:16px;letter-spacing:-0.7px;color:#000;">0</div>
<div class="t" style="left:52.599999999999994px;width:60px;text-align:right;top:55.60000000000002px;font-size:14px;line-height:16px;letter-spacing:-0.7px;color:#000;">-0.5</div>
<div class="t" style="left:52.599999999999994px;width:60px;text-align:right;top:77px;font-size:14px;line-height:16px;letter-spacing:-0.7px;color:#000;">-1</div>
<svg width="1120" height="107" viewBox="5 507 1120 107" style="left:0;top:0" shape-rendering="crispEdges"><rect x="120" y="508.5" width="4" height="2" fill="#808080"/><rect x="120" y="529.3" width="4" height="2" fill="#808080"/><rect x="120" y="549.5" width="4" height="2" fill="#808080"/><rect x="120" y="570.1" width="4" height="2" fill="#808080"/><rect x="120" y="591.5" width="4" height="2" fill="#808080"/><rect x="124" y="509" width="986" height="84" fill="#000"/><rect x="370.5" y="510" width="648.0" height="82" fill="#321510"/><path d="M126,530.5 H370" stroke="#a8a8a8" stroke-dasharray="3 3" shape-rendering="crispEdges"/><path d="M373,530.5 H1018" stroke="#a88c88" stroke-dasharray="3 3" shape-rendering="crispEdges"/><path d="M1021,530.5 H1109" stroke="#a8a8a8" stroke-dasharray="3 3" shape-rendering="crispEdges"/><path d="M126,550.5 H370" stroke="#a8a8a8" stroke-dasharray="3 3" shape-rendering="crispEdges"/><path d="M373,550.5 H1018" stroke="#a88c88" stroke-dasharray="3 3" shape-rendering="crispEdges"/><path d="M1021,550.5 H1109" stroke="#a8a8a8" stroke-dasharray="3 3" shape-rendering="crispEdges"/><path d="M126,571.5 H370" stroke="#a8a8a8" stroke-dasharray="3 3" shape-rendering="crispEdges"/><path d="M373,571.5 H1018" stroke="#a88c88" stroke-dasharray="3 3" shape-rendering="crispEdges"/><path d="M1021,571.5 H1109" stroke="#a8a8a8" stroke-dasharray="3 3" shape-rendering="crispEdges"/><path d="M126.5,510 V592" stroke="#a8a8a8" stroke-dasharray="3 3"/><path d="M161.5,510 V592" stroke="#a8a8a8" stroke-dasharray="1 1"/><path d="M196.5,510 V592" stroke="#a8a8a8" stroke-dasharray="1 1"/><path d="M230.5,510 V592" stroke="#a8a8a8" stroke-dasharray="1 1"/><path d="M265.5,510 V592" stroke="#a8a8a8" stroke-dasharray="3 3"/><path d="M300.5,510 V592" stroke="#a8a8a8" stroke-dasharray="1 1"/><path d="M335.5,510 V592" stroke="#a8a8a8" stroke-dasharray="1 1"/><path d="M404.5,510 V592" stroke="#a88c88" stroke-dasharray="3 3"/><path d="M439.5,510 V592" stroke="#a88c88" stroke-dasharray="1 1"/><path d="M474.5,510 V592" stroke="#a88c88" stroke-dasharray="1 1"/><path d="M508.5,510 V592" stroke="#a88c88" stroke-dasharray="1 1"/><path d="M543.5,510 V592" stroke="#a88c88" stroke-dasharray="3 3"/><path d="M578.5,510 V592" stroke="#a88c88" stroke-dasharray="1 1"/><path d="M612.5,510 V592" stroke="#a88c88" stroke-dasharray="1 1"/><path d="M647.5,510 V592" stroke="#a88c88" stroke-dasharray="1 1"/><path d="M682.5,510 V592" stroke="#a88c88" stroke-dasharray="3 3"/><path d="M717.5,510 V592" stroke="#a88c88" stroke-dasharray="1 1"/><path d="M751.5,510 V592" stroke="#a88c88" stroke-dasharray="1 1"/><path d="M786.5,510 V592" stroke="#a88c88" stroke-dasharray="1 1"/><path d="M821.5,510 V592" stroke="#a88c88" stroke-dasharray="3 3"/><path d="M855.5,510 V592" stroke="#a88c88" stroke-dasharray="1 1"/><path d="M890.5,510 V592" stroke="#a88c88" stroke-dasharray="1 1"/><path d="M925.5,510 V592" stroke="#a88c88" stroke-dasharray="1 1"/><path d="M960.5,510 V592" stroke="#a88c88" stroke-dasharray="3 3"/><path d="M994.5,510 V592" stroke="#a88c88" stroke-dasharray="1 1"/><path d="M1029.5,510 V592" stroke="#a8a8a8" stroke-dasharray="1 1"/><path d="M1064.5,510 V592" stroke="#a8a8a8" stroke-dasharray="1 1"/><path d="M1098.5,510 V592" stroke="#a8a8a8" stroke-dasharray="3 3"/><path d="M370.5,509 V594" stroke="#ff6a45" stroke-width="3" stroke-dasharray="8 4 2 4" shape-rendering="auto"/><path d="M1018.5,509 V594" stroke="#ff6a45" stroke-width="3" stroke-dasharray="8 4 2 4" shape-rendering="auto"/><path d="M126.0,592.0 L126.0,536.3 L131.2,539.6 L136.7,536.3 L146.8,535.1 L154.6,535.1 L156.8,543.0 L160.2,555.2 L164.6,553.7 L171.3,549.6 L177.6,553.0 L183.6,545.2 L191.4,542.5 L200.4,532.9 L207.0,521.7 L213.8,520.2 L220.4,522.4 L230.5,526.7 L247.2,527.3 L252.8,526.2 L267.3,526.2 L276.3,528.4 L285.2,532.9 L291.9,535.1 L298.6,534.7 L303.0,540.7 L309.7,544.1 L314.2,542.5 L332.0,538.5 L354.4,534.0 L367.8,534.7 L380.6,535.1 L385.1,540.7 L391.8,544.1 L398.5,541.2 L405.2,538.0 L416.3,546.3 L427.5,550.8 L438.7,551.9 L444.2,553.0 L449.8,549.6 L454.3,537.4 L461.0,530.7 L467.7,526.2 L474.4,518.4 L481.1,514.4 L494.5,513.5 L521.3,512.8 L554.7,512.8 L565.9,515.0 L588.2,517.3 L610.5,515.7 L625.6,516.6 L632.3,515.7 L645.7,517.3 L654.6,517.3 L672.5,518.4 L683.7,520.2 L694.8,519.5 L703.8,515.7 L735.0,515.0 L748.4,515.0 L755.0,516.2 L784.0,516.2 L802.0,517.3 L813.1,515.0 L819.8,518.8 L831.0,521.7 L842.1,515.7 L860.0,515.0 L885.2,513.1 L908.4,514.3 L931.6,516.1 L957.1,513.8 L971.0,515.4 L982.7,520.1 L1003.6,521.2 L1022.1,520.1 L1045.3,521.2 L1059.3,516.1 L1075.5,519.4 L1103.4,518.5 L1108.0,516.6 L1108.0,592.0 Z" fill="#ff80ff" shape-rendering="crispEdges"/><rect x="124.5" y="509.5" width="985" height="83" fill="none" stroke="#000" stroke-width="1"/><path d="M124,509 V593" stroke="#000" stroke-width="2"/><path d="M124,592.5 H1110" stroke="#000" stroke-width="1"/><rect x="125" y="593" width="2" height="3" fill="#808080"/><rect x="161" y="593" width="1" height="2" fill="#808080"/><rect x="196" y="593" width="1" height="2" fill="#808080"/><rect x="230" y="593" width="1" height="2" fill="#808080"/><rect x="264" y="593" width="2" height="3" fill="#808080"/><rect x="300" y="593" width="1" height="2" fill="#808080"/><rect x="335" y="593" width="1" height="2" fill="#808080"/><rect x="369" y="593" width="1" height="2" fill="#808080"/><rect x="403" y="593" width="2" height="3" fill="#808080"/><rect x="439" y="593" width="1" height="2" fill="#808080"/><rect x="474" y="593" width="1" height="2" fill="#808080"/><rect x="508" y="593" width="1" height="2" fill="#808080"/><rect x="542" y="593" width="2" height="3" fill="#808080"/><rect x="578" y="593" width="1" height="2" fill="#808080"/><rect x="612" y="593" width="1" height="2" fill="#808080"/><rect x="647" y="593" width="1" height="2" fill="#808080"/><rect x="681" y="593" width="2" height="3" fill="#808080"/><rect x="717" y="593" width="1" height="2" fill="#808080"/><rect x="751" y="593" width="1" height="2" fill="#808080"/><rect x="786" y="593" width="1" height="2" fill="#808080"/><rect x="820" y="593" width="2" height="3" fill="#808080"/><rect x="855" y="593" width="1" height="2" fill="#808080"/><rect x="890" y="593" width="1" height="2" fill="#808080"/><rect x="925" y="593" width="1" height="2" fill="#808080"/><rect x="959" y="593" width="2" height="3" fill="#808080"/><rect x="994" y="593" width="1" height="2" fill="#808080"/><rect x="1029" y="593" width="1" height="2" fill="#808080"/><rect x="1064" y="593" width="1" height="2" fill="#808080"/><rect x="1097" y="593" width="2" height="3" fill="#808080"/></svg>
<div class="t" style="left:60.6px;width:120px;text-align:center;top:90px;font-size:14px;line-height:16px;letter-spacing:-0.7px;color:#000;">14/8 12:52</div>
<div class="t" style="left:199.5px;width:120px;text-align:center;top:90px;font-size:14px;line-height:16px;letter-spacing:-0.7px;color:#000;">14/8 12:56</div>
<div class="t" style="left:338.4px;width:120px;text-align:center;top:90px;font-size:14px;line-height:16px;letter-spacing:-0.7px;color:#000;">14/8 13:00</div>
<div class="t" style="left:477.2px;width:120px;text-align:center;top:90px;font-size:14px;line-height:16px;letter-spacing:-0.7px;color:#000;">14/8 13:04</div>
<div class="t" style="left:616.1px;width:120px;text-align:center;top:90px;font-size:14px;line-height:16px;letter-spacing:-0.7px;color:#000;">14/8 13:08</div>
<div class="t" style="left:755.0px;width:120px;text-align:center;top:90px;font-size:14px;line-height:16px;letter-spacing:-0.7px;color:#000;">14/8 13:12</div>
<div class="t" style="left:893.9px;width:120px;text-align:center;top:90px;font-size:14px;line-height:16px;letter-spacing:-0.7px;color:#000;">14/8 13:16</div>
<div class="t" style="left:1032.8px;width:120px;text-align:center;top:90px;font-size:14px;line-height:16px;letter-spacing:-0.7px;color:#000;">14/8 13:20</div>
</div>
<div style="position:absolute;left:5px;top:614px;width:1114px;height:1px;background:#a0a0a0;"></div>
<div style="position:absolute;left:5px;top:615px;width:1114px;height:23px;background:#ffffff;"></div>
<div style="position:absolute;left:5px;top:637px;width:1115px;height:1px;background:#a0a0a0;"></div>
<div style="position:absolute;left:5px;top:638px;width:1115px;height:4px;background:#efefef;"></div>
<div style="position:absolute;left:1119px;top:614px;width:1px;height:24px;background:#a0a0a0;"></div>
<div style="position:absolute;left:0px;top:642px;width:1120px;height:520px;background:#ffffff;"></div>
<div style="position:absolute;left:150px;top:615px;width:804px;height:547px;background:#fafafa;"></div>
<div style="position:absolute;left:953px;top:617px;width:2px;height:545px;background:linear-gradient(90deg,#b4b4b4,#a8a8a8);"></div>
<div class="t" style="left:470px;top:618.4px;font-size:14px;line-height:18.2px;color:#222;font-weight:normal;">CSF Infusion Test Results</div>
<div style="position:absolute;left:156px;top:643px;width:791px;height:478px;box-sizing:border-box;border:1px solid #a0a0a0;border-right-color:#c8c8c8;border-bottom:none;background:#fff;"></div>
<div style="position:absolute;left:157px;top:1122px;width:788px;height:39px;background:#efefef;"></div>
<div style="position:absolute;left:155px;top:1121px;width:1px;height:41px;background:#d8d8d8;"></div>
<div style="position:absolute;left:945px;top:1121px;width:1px;height:41px;background:#909090;"></div>
<div style="position:absolute;left:155px;top:1161px;width:791px;height:1px;background:#909090;"></div>
<svg width="1120" height="1162" style="left:0;top:0"><rect x="326" y="663" width="293.5" height="400.5" fill="#80ffff"/><path d="M326.5,663 V1063.5 M326,663.5 H619.5 M619.5,663 V1063.5" stroke="#000" stroke-width="1" fill="none" shape-rendering="crispEdges"/><path d="M221,663 V851.5" stroke="#000" stroke-width="2" shape-rendering="crispEdges"/><path d="M220,850.5 H621" stroke="#000" stroke-width="2" shape-rendering="crispEdges"/><path d="M216,826.5 H220" stroke="#606060" stroke-width="1" shape-rendering="crispEdges"/><path d="M216,793.5 H220" stroke="#606060" stroke-width="1" shape-rendering="crispEdges"/><path d="M216,759.5 H220" stroke="#606060" stroke-width="1" shape-rendering="crispEdges"/><path d="M216,725.5 H220" stroke="#606060" stroke-width="1" shape-rendering="crispEdges"/><path d="M216,692.5 H220" stroke="#606060" stroke-width="1" shape-rendering="crispEdges"/><path d="M218,692.5 H220" stroke="#8a8a8a" stroke-width="1" shape-rendering="crispEdges"/><path d="M218,684.5 H220" stroke="#8a8a8a" stroke-width="1" shape-rendering="crispEdges"/><path d="M218,675.5 H220" stroke="#8a8a8a" stroke-width="1" shape-rendering="crispEdges"/><path d="M218,667.5 H220" stroke="#8a8a8a" stroke-width="1" shape-rendering="crispEdges"/><path d="M218,692.5 H220" stroke="#8a8a8a" stroke-width="1" shape-rendering="crispEdges"/><path d="M218,701.5 H220" stroke="#8a8a8a" stroke-width="1" shape-rendering="crispEdges"/><path d="M218,709.5 H220" stroke="#8a8a8a" stroke-width="1" shape-rendering="crispEdges"/><path d="M218,717.5 H220" stroke="#8a8a8a" stroke-width="1" shape-rendering="crispEdges"/><path d="M218,726.5 H220" stroke="#8a8a8a" stroke-width="1" shape-rendering="crispEdges"/><path d="M218,734.5 H220" stroke="#8a8a8a" stroke-width="1" shape-rendering="crispEdges"/><path d="M218,743.5 H220" stroke="#8a8a8a" stroke-width="1" shape-rendering="crispEdges"/><path d="M218,751.5 H220" stroke="#8a8a8a" stroke-width="1" shape-rendering="crispEdges"/><path d="M218,759.5 H220" stroke="#8a8a8a" stroke-width="1" shape-rendering="crispEdges"/><path d="M218,768.5 H220" stroke="#8a8a8a" stroke-width="1" shape-rendering="crispEdges"/><path d="M218,776.5 H220" stroke="#8a8a8a" stroke-width="1" shape-rendering="crispEdges"/><path d="M218,784.5 H220" stroke="#8a8a8a" stroke-width="1" shape-rendering="crispEdges"/><path d="M218,793.5 H220" stroke="#8a8a8a" stroke-width="1" shape-rendering="crispEdges"/><path d="M218,801.5 H220" stroke="#8a8a8a" stroke-width="1" shape-rendering="crispEdges"/><path d="M218,810.5 H220" stroke="#8a8a8a" stroke-width="1" shape-rendering="crispEdges"/><path d="M218,818.5 H220" stroke="#8a8a8a" stroke-width="1" shape-rendering="crispEdges"/><path d="M218,826.5 H220" stroke="#8a8a8a" stroke-width="1" shape-rendering="crispEdges"/><path d="M218,835.5 H220" stroke="#8a8a8a" stroke-width="1" shape-rendering="crispEdges"/><path d="M218,843.5 H220" stroke="#8a8a8a" stroke-width="1" shape-rendering="crispEdges"/><path d="M240.5,851.5 V853.5" stroke="#606060" stroke-width="1" shape-rendering="crispEdges"/><path d="M260.5,851.5 V855.5" stroke="#606060" stroke-width="1" shape-rendering="crispEdges"/><path d="M279.5,851.5 V853.5" stroke="#606060" stroke-width="1" shape-rendering="crispEdges"/><path d="M299.5,851.5 V853.5" stroke="#606060" stroke-width="1" shape-rendering="crispEdges"/><path d="M319.5,851.5 V853.5" stroke="#606060" stroke-width="1" shape-rendering="crispEdges"/><path d="M339.5,851.5 V855.5" stroke="#606060" stroke-width="1" shape-rendering="crispEdges"/><path d="M359.5,851.5 V853.5" stroke="#606060" stroke-width="1" shape-rendering="crispEdges"/><path d="M379.5,851.5 V853.5" stroke="#606060" stroke-width="1" shape-rendering="crispEdges"/><path d="M399.5,851.5 V853.5" stroke="#606060" stroke-width="1" shape-rendering="crispEdges"/><path d="M419.5,851.5 V855.5" stroke="#606060" stroke-width="1" shape-rendering="crispEdges"/><path d="M439.5,851.5 V853.5" stroke="#606060" stroke-width="1" shape-rendering="crispEdges"/><path d="M459.5,851.5 V853.5" stroke="#606060" stroke-width="1" shape-rendering="crispEdges"/><path d="M479.5,851.5 V853.5" stroke="#606060" stroke-width="1" shape-rendering="crispEdges"/><path d="M499.5,851.5 V855.5" stroke="#606060" stroke-width="1" shape-rendering="crispEdges"/><path d="M519.5,851.5 V853.5" stroke="#606060" stroke-width="1" shape-rendering="crispEdges"/><path d="M538.5,851.5 V853.5" stroke="#606060" stroke-width="1" shape-rendering="crispEdges"/><path d="M558.5,851.5 V853.5" stroke="#606060" stroke-width="1" shape-rendering="crispEdges"/><path d="M578.5,851.5 V855.5" stroke="#606060" stroke-width="1" shape-rendering="crispEdges"/><path d="M598.5,851.5 V853.5" stroke="#606060" stroke-width="1" shape-rendering="crispEdges"/><path d="M618.5,851.5 V853.5" stroke="#606060" stroke-width="1" shape-rendering="crispEdges"/><path d="M326,793.2 H619" stroke="#0000e0" stroke-width="2.2" fill="none"/><path d="M221.0,848.0 L226.0,847.0 L231.0,849.0 L236.0,847.5 L241.0,848.5 L246.0,847.0 L251.0,848.0 L256.0,849.0 L261.0,847.0 L266.0,848.5 L271.0,847.0 L276.0,848.5 L281.0,846.5 L286.0,847.5 L291.0,848.5 L296.0,847.0 L301.0,848.0 L306.0,848.5 L311.0,847.0 L316.0,848.0 L321.0,847.5 L326.5,845.2 L330.3,840.0 L344.1,836.6 L356.1,832.3 L363.0,824.5 L368.2,826.3 L370.8,808.2 L373.4,794.4 L375.9,806.5 L379.4,817.6 L382.0,818.5 L384.5,809.9 L388.8,813.3 L397.5,812.5 L402.6,797.9 L409.5,808.2 L416.4,809.9 L419.8,797.0 L425.0,800.4 L431.9,801.3 L438.8,791.8 L441.3,772.0 L444.8,760.0 L448.2,785.8 L450.8,787.5 L453.4,772.9 L457.7,777.2 L461.1,765.2 L464.6,784.1 L472.3,775.5 L473.2,758.3 L477.5,732.5 L482.0,758.3 L487.2,756.5 L490.7,771.2 L495.8,765.2 L498.4,770.3 L504.4,776.3 L509.6,778.0 L514.8,770.3 L522.5,770.3 L527.7,742.8 L535.4,735.0 L538.8,663.6 L542.3,680.8 L545.7,758.3 L554.3,772.0 L560.4,733.3 L564.7,756.5 L569.8,760.0 L575.9,739.3 L578.4,742.8 L581.9,724.7 L585.3,729.0 L592.2,770.3 L597.4,749.7 L603.4,768.6 L606.0,768.6 L608.6,751.4 L612.9,754.8 L616.3,748.8 L618.9,735.0 L621.5,739.3" stroke="#3a4fb0" stroke-width="1" fill="none" shape-rendering="crispEdges"/><path d="M221.0,846.5 L326.0,846.5 L328.0,840.2 L337.2,835.7 L354.4,829.7 L371.6,821.1 L388.8,811.6 L406.0,802.2 L423.3,791.8 L440.5,783.2 L457.7,774.6 L470.0,769.5 L480.0,766.5 L495.8,760.9 L521.6,754.8 L547.5,751.0 L573.3,748.8 L599.1,747.6 L618.9,746.7" stroke="#ff0000" stroke-width="2.2" fill="none"/><path d="M221,876 V1064.5" stroke="#000" stroke-width="2" shape-rendering="crispEdges"/><path d="M220,1063.5 H621" stroke="#000" stroke-width="2" shape-rendering="crispEdges"/><path d="M216,1061.5 H220" stroke="#606060" stroke-width="1" shape-rendering="crispEdges"/><path d="M216,1040.5 H220" stroke="#606060" stroke-width="1" shape-rendering="crispEdges"/><path d="M216,1019.5 H220" stroke="#606060" stroke-width="1" shape-rendering="crispEdges"/><path d="M216,998.5 H220" stroke="#606060" stroke-width="1" shape-rendering="crispEdges"/><path d="M216,978.5 H220" stroke="#606060" stroke-width="1" shape-rendering="crispEdges"/><path d="M216,958.5 H220" stroke="#606060" stroke-width="1" shape-rendering="crispEdges"/><path d="M216,937.5 H220" stroke="#606060" stroke-width="1" shape-rendering="crispEdges"/><path d="M216,916.5 H220" stroke="#606060" stroke-width="1" shape-rendering="crispEdges"/><path d="M216,895.5 H220" stroke="#606060" stroke-width="1" shape-rendering="crispEdges"/><path d="M218,895.5 H220" stroke="#8a8a8a" stroke-width="1" shape-rendering="crispEdges"/><path d="M218,890.5 H220" stroke="#8a8a8a" stroke-width="1" shape-rendering="crispEdges"/><path d="M218,885.5 H220" stroke="#8a8a8a" stroke-width="1" shape-rendering="crispEdges"/><path d="M218,880.5 H220" stroke="#8a8a8a" stroke-width="1" shape-rendering="crispEdges"/><path d="M218,895.5 H220" stroke="#8a8a8a" stroke-width="1" shape-rendering="crispEdges"/><path d="M218,900.5 H220" stroke="#8a8a8a" stroke-width="1" shape-rendering="crispEdges"/><path d="M218,906.5 H220" stroke="#8a8a8a" stroke-width="1" shape-rendering="crispEdges"/><path d="M218,911.5 H220" stroke="#8a8a8a" stroke-width="1" shape-rendering="crispEdges"/><path d="M218,916.5 H220" stroke="#8a8a8a" stroke-width="1" shape-rendering="crispEdges"/><path d="M218,921.5 H220" stroke="#8a8a8a" stroke-width="1" shape-rendering="crispEdges"/><path d="M218,926.5 H220" stroke="#8a8a8a" stroke-width="1" shape-rendering="crispEdges"/><path d="M218,931.5 H220" stroke="#8a8a8a" stroke-width="1" shape-rendering="crispEdges"/><path d="M218,937.5 H220" stroke="#8a8a8a" stroke-width="1" shape-rendering="crispEdges"/><path d="M218,942.5 H220" stroke="#8a8a8a" stroke-width="1" shape-rendering="crispEdges"/><path d="M218,947.5 H220" stroke="#8a8a8a" stroke-width="1" shape-rendering="crispEdges"/><path d="M218,952.5 H220" stroke="#8a8a8a" stroke-width="1" shape-rendering="crispEdges"/><path d="M218,957.5 H220" stroke="#8a8a8a" stroke-width="1" shape-rendering="crispEdges"/><path d="M218,962.5 H220" stroke="#8a8a8a" stroke-width="1" shape-rendering="crispEdges"/><path d="M218,968.5 H220" stroke="#8a8a8a" stroke-width="1" shape-rendering="crispEdges"/><path d="M218,973.5 H220" stroke="#8a8a8a" stroke-width="1" shape-rendering="crispEdges"/><path d="M218,978.5 H220" stroke="#8a8a8a" stroke-width="1" shape-rendering="crispEdges"/><path d="M218,983.5 H220" stroke="#8a8a8a" stroke-width="1" shape-rendering="crispEdges"/><path d="M218,988.5 H220" stroke="#8a8a8a" stroke-width="1" shape-rendering="crispEdges"/><path d="M218,994.5 H220" stroke="#8a8a8a" stroke-width="1" shape-rendering="crispEdges"/><path d="M218,999.5 H220" stroke="#8a8a8a" stroke-width="1" shape-rendering="crispEdges"/><path d="M218,1004.5 H220" stroke="#8a8a8a" stroke-width="1" shape-rendering="crispEdges"/><path d="M218,1009.5 H220" stroke="#8a8a8a" stroke-width="1" shape-rendering="crispEdges"/><path d="M218,1014.5 H220" stroke="#8a8a8a" stroke-width="1" shape-rendering="crispEdges"/><path d="M218,1019.5 H220" stroke="#8a8a8a" stroke-width="1" shape-rendering="crispEdges"/><path d="M218,1025.5 H220" stroke="#8a8a8a" stroke-width="1" shape-rendering="crispEdges"/><path d="M218,1030.5 H220" stroke="#8a8a8a" stroke-width="1" shape-rendering="crispEdges"/><path d="M218,1035.5 H220" stroke="#8a8a8a" stroke-width="1" shape-rendering="crispEdges"/><path d="M218,1040.5 H220" stroke="#8a8a8a" stroke-width="1" shape-rendering="crispEdges"/><path d="M218,1045.5 H220" stroke="#8a8a8a" stroke-width="1" shape-rendering="crispEdges"/><path d="M218,1050.5 H220" stroke="#8a8a8a" stroke-width="1" shape-rendering="crispEdges"/><path d="M218,1056.5 H220" stroke="#8a8a8a" stroke-width="1" shape-rendering="crispEdges"/><path d="M218,1061.5 H220" stroke="#8a8a8a" stroke-width="1" shape-rendering="crispEdges"/><path d="M240.5,1064.5 V1066.5" stroke="#606060" stroke-width="1" shape-rendering="crispEdges"/><path d="M260.5,1064.5 V1068.5" stroke="#606060" stroke-width="1" shape-rendering="crispEdges"/><path d="M279.5,1064.5 V1066.5" stroke="#606060" stroke-width="1" shape-rendering="crispEdges"/><path d="M299.5,1064.5 V1066.5" stroke="#606060" stroke-width="1" shape-rendering="crispEdges"/><path d="M319.5,1064.5 V1066.5" stroke="#606060" stroke-width="1" shape-rendering="crispEdges"/><path d="M339.5,1064.5 V1068.5" stroke="#606060" stroke-width="1" shape-rendering="crispEdges"/><path d="M359.5,1064.5 V1066.5" stroke="#606060" stroke-width="1" shape-rendering="crispEdges"/><path d="M379.5,1064.5 V1066.5" stroke="#606060" stroke-width="1" shape-rendering="crispEdges"/><path d="M399.5,1064.5 V1066.5" stroke="#606060" stroke-width="1" shape-rendering="crispEdges"/><path d="M419.5,1064.5 V1068.5" stroke="#606060" stroke-width="1" shape-rendering="crispEdges"/><path d="M439.5,1064.5 V1066.5" stroke="#606060" stroke-width="1" shape-rendering="crispEdges"/><path d="M459.5,1064.5 V1066.5" stroke="#606060" stroke-width="1" shape-rendering="crispEdges"/><path d="M479.5,1064.5 V1066.5" stroke="#606060" stroke-width="1" shape-rendering="crispEdges"/><path d="M499.5,1064.5 V1068.5" stroke="#606060" stroke-width="1" shape-rendering="crispEdges"/><path d="M519.5,1064.5 V1066.5" stroke="#606060" stroke-width="1" shape-rendering="crispEdges"/><path d="M538.5,1064.5 V1066.5" stroke="#606060" stroke-width="1" shape-rendering="crispEdges"/><path d="M558.5,1064.5 V1066.5" stroke="#606060" stroke-width="1" shape-rendering="crispEdges"/><path d="M578.5,1064.5 V1068.5" stroke="#606060" stroke-width="1" shape-rendering="crispEdges"/><path d="M598.5,1064.5 V1066.5" stroke="#606060" stroke-width="1" shape-rendering="crispEdges"/><path d="M618.5,1064.5 V1066.5" stroke="#606060" stroke-width="1" shape-rendering="crispEdges"/><path d="M221.0,1056.0 L225.0,1054.0 L229.2,1053.0 L233.0,1055.0 L237.0,1052.0 L241.0,1054.0 L245.0,1050.0 L248.3,1047.4 L252.0,1052.0 L255.0,1055.0 L258.9,1059.3 L262.0,1055.0 L269.5,1051.7 L274.0,1053.0 L278.0,1051.0 L282.0,1053.0 L286.0,1052.0 L290.7,1053.0 L294.1,1062.7 L297.0,1057.0 L301.3,1056.0 L304.0,1060.0 L308.0,1054.0 L311.9,1051.7 L315.0,1056.0 L318.0,1053.0 L320.4,1057.2 L324.0,1056.0 L328.9,1057.2 L333.0,1055.0 L337.4,1054.2 L341.0,1057.0 L345.8,1060.2 L350.0,1056.0 L354.0,1057.0 L358.6,1053.0 L362.0,1050.0 L364.9,1033.9 L369.2,1042.4 L373.4,1013.5 L378.0,1035.0 L384.0,1045.7 L388.0,1035.0 L392.5,1029.6 L397.6,1044.5 L403.1,1004.2 L406.0,1012.0 L409.5,1019.0 L413.0,1015.0 L416.0,1016.0 L420.1,999.1 L432.8,999.9 L437.0,1014.8 L441.0,1000.0 L445.5,971.1 L450.6,1020.3 L454.0,983.0 L457.0,995.0 L460.3,989.3 L464.0,980.0 L468.8,974.5 L473.0,955.0 L477.3,917.3 L480.0,925.0 L482.4,966.0 L485.0,945.0 L487.9,934.2 L492.2,970.3 L495.0,960.0 L498.5,955.4 L501.0,970.0 L504.9,990.6 L508.0,980.0 L513.4,971.1 L517.0,978.0 L521.8,1002.0 L525.0,960.0 L528.2,915.1 L532.4,978.7 L535.0,955.0 L537.5,955.4 L539.5,930.0 L541.8,877.0 L543.5,900.0 L545.2,961.8 L549.0,975.0 L553.6,985.1 L558.0,965.0 L562.1,936.3 L567.0,955.0 L572.7,993.6 L577.0,960.0 L583.3,906.6 L587.0,950.0 L591.8,995.7 L594.0,975.0 L596.9,942.7 L600.3,995.7 L604.0,985.0 L608.0,975.0 L613.0,963.9 L616.4,987.2 L619.4,927.9" stroke="#008000" stroke-width="1" fill="none" shape-rendering="crispEdges"/><path d="M663,663 V851.5" stroke="#000" stroke-width="2" shape-rendering="crispEdges"/><path d="M662,850.5 H923.5" stroke="#000" stroke-width="2" shape-rendering="crispEdges"/><path d="M658,845.5 H662" stroke="#606060" stroke-width="1" shape-rendering="crispEdges"/><path d="M658,828.5 H662" stroke="#606060" stroke-width="1" shape-rendering="crispEdges"/><path d="M658,812.5 H662" stroke="#606060" stroke-width="1" shape-rendering="crispEdges"/><path d="M658,795.5 H662" stroke="#606060" stroke-width="1" shape-rendering="crispEdges"/><path d="M658,778.5 H662" stroke="#606060" stroke-width="1" shape-rendering="crispEdges"/><path d="M658,761.5 H662" stroke="#606060" stroke-width="1" shape-rendering="crispEdges"/><path d="M658,744.5 H662" stroke="#606060" stroke-width="1" shape-rendering="crispEdges"/><path d="M658,727.5 H662" stroke="#606060" stroke-width="1" shape-rendering="crispEdges"/><path d="M658,711.5 H662" stroke="#606060" stroke-width="1" shape-rendering="crispEdges"/><path d="M658,694.5 H662" stroke="#606060" stroke-width="1" shape-rendering="crispEdges"/><path d="M658,677.5 H662" stroke="#606060" stroke-width="1" shape-rendering="crispEdges"/><path d="M660,841.5 H662" stroke="#8a8a8a" stroke-width="1" shape-rendering="crispEdges"/><path d="M660,837.5 H662" stroke="#8a8a8a" stroke-width="1" shape-rendering="crispEdges"/><path d="M660,833.5 H662" stroke="#8a8a8a" stroke-width="1" shape-rendering="crispEdges"/><path d="M660,824.5 H662" stroke="#8a8a8a" stroke-width="1" shape-rendering="crispEdges"/><path d="M660,820.5 H662" stroke="#8a8a8a" stroke-width="1" shape-rendering="crispEdges"/><path d="M660,816.5 H662" stroke="#8a8a8a" stroke-width="1" shape-rendering="crispEdges"/><path d="M660,807.5 H662" stroke="#8a8a8a" stroke-width="1" shape-rendering="crispEdges"/><path d="M660,803.5 H662" stroke="#8a8a8a" stroke-width="1" shape-rendering="crispEdges"/><path d="M660,799.5 H662" stroke="#8a8a8a" stroke-width="1" shape-rendering="crispEdges"/><path d="M660,791.5 H662" stroke="#8a8a8a" stroke-width="1" shape-rendering="crispEdges"/><path d="M660,786.5 H662" stroke="#8a8a8a" stroke-width="1" shape-rendering="crispEdges"/><path d="M660,782.5 H662" stroke="#8a8a8a" stroke-width="1" shape-rendering="crispEdges"/><path d="M660,774.5 H662" stroke="#8a8a8a" stroke-width="1" shape-rendering="crispEdges"/><path d="M660,770.5 H662" stroke="#8a8a8a" stroke-width="1" shape-rendering="crispEdges"/><path d="M660,765.5 H662" stroke="#8a8a8a" stroke-width="1" shape-rendering="crispEdges"/><path d="M660,757.5 H662" stroke="#8a8a8a" stroke-width="1" shape-rendering="crispEdges"/><path d="M660,753.5 H662" stroke="#8a8a8a" stroke-width="1" shape-rendering="crispEdges"/><path d="M660,749.5 H662" stroke="#8a8a8a" stroke-width="1" shape-rendering="crispEdges"/><path d="M660,740.5 H662" stroke="#8a8a8a" stroke-width="1" shape-rendering="crispEdges"/><path d="M660,736.5 H662" stroke="#8a8a8a" stroke-width="1" shape-rendering="crispEdges"/><path d="M660,732.5 H662" stroke="#8a8a8a" stroke-width="1" shape-rendering="crispEdges"/><path d="M660,723.5 H662" stroke="#8a8a8a" stroke-width="1" shape-rendering="crispEdges"/><path d="M660,719.5 H662" stroke="#8a8a8a" stroke-width="1" shape-rendering="crispEdges"/><path d="M660,715.5 H662" stroke="#8a8a8a" stroke-width="1" shape-rendering="crispEdges"/><path d="M660,706.5 H662" stroke="#8a8a8a" stroke-width="1" shape-rendering="crispEdges"/><path d="M660,702.5 H662" stroke="#8a8a8a" stroke-width="1" shape-rendering="crispEdges"/><path d="M660,698.5 H662" stroke="#8a8a8a" stroke-width="1" shape-rendering="crispEdges"/><path d="M660,690.5 H662" stroke="#8a8a8a" stroke-width="1" shape-rendering="crispEdges"/><path d="M660,685.5 H662" stroke="#8a8a8a" stroke-width="1" shape-rendering="crispEdges"/><path d="M660,681.5 H662" stroke="#8a8a8a" stroke-width="1" shape-rendering="crispEdges"/><path d="M660,673.5 H662" stroke="#8a8a8a" stroke-width="1" shape-rendering="crispEdges"/><path d="M660,669.5 H662" stroke="#8a8a8a" stroke-width="1" shape-rendering="crispEdges"/><path d="M660,664.5 H662" stroke="#8a8a8a" stroke-width="1" shape-rendering="crispEdges"/><path d="M667.5,851.5 V855.5" stroke="#606060" stroke-width="1" shape-rendering="crispEdges"/><path d="M693.5,851.5 V855.5" stroke="#606060" stroke-width="1" shape-rendering="crispEdges"/><path d="M718.5,851.5 V855.5" stroke="#606060" stroke-width="1" shape-rendering="crispEdges"/><path d="M743.5,851.5 V855.5" stroke="#606060" stroke-width="1" shape-rendering="crispEdges"/><path d="M769.5,851.5 V855.5" stroke="#606060" stroke-width="1" shape-rendering="crispEdges"/><path d="M794.5,851.5 V855.5" stroke="#606060" stroke-width="1" shape-rendering="crispEdges"/><path d="M820.5,851.5 V855.5" stroke="#606060" stroke-width="1" shape-rendering="crispEdges"/><path d="M845.5,851.5 V855.5" stroke="#606060" stroke-width="1" shape-rendering="crispEdges"/><path d="M870.5,851.5 V855.5" stroke="#606060" stroke-width="1" shape-rendering="crispEdges"/><path d="M896.5,851.5 V855.5" stroke="#606060" stroke-width="1" shape-rendering="crispEdges"/><path d="M921.5,851.5 V855.5" stroke="#606060" stroke-width="1" shape-rendering="crispEdges"/><path d="M680.5,851.5 V853.5" stroke="#606060" stroke-width="1" shape-rendering="crispEdges"/><path d="M705.5,851.5 V853.5" stroke="#606060" stroke-width="1" shape-rendering="crispEdges"/><path d="M731.5,851.5 V853.5" stroke="#606060" stroke-width="1" shape-rendering="crispEdges"/><path d="M756.5,851.5 V853.5" stroke="#606060" stroke-width="1" shape-rendering="crispEdges"/><path d="M782.5,851.5 V853.5" stroke="#606060" stroke-width="1" shape-rendering="crispEdges"/><path d="M807.5,851.5 V853.5" stroke="#606060" stroke-width="1" shape-rendering="crispEdges"/><path d="M832.5,851.5 V853.5" stroke="#606060" stroke-width="1" shape-rendering="crispEdges"/><path d="M858.5,851.5 V853.5" stroke="#606060" stroke-width="1" shape-rendering="crispEdges"/><path d="M883.5,851.5 V853.5" stroke="#606060" stroke-width="1" shape-rendering="crispEdges"/><path d="M909.5,851.5 V853.5" stroke="#606060" stroke-width="1" shape-rendering="crispEdges"/><path d="M671.8,844.4 L670.5,845.5 L670.6,847.2 L669.0,847.1 L667.9,848.3 L666.8,847.1 L665.1,847.2 L665.2,845.5 L664.0,844.4 L665.2,843.3 L665.1,841.7 L666.8,841.8 L667.9,840.5 L669.0,841.8 L670.6,841.7 L670.5,843.3 Z" fill="#0000ff"/><path d="M677.6,846.2 L676.4,847.3 L676.4,848.9 L674.8,848.8 L673.7,850.1 L672.6,848.8 L670.9,848.9 L671.0,847.3 L669.8,846.2 L671.0,845.1 L670.9,843.4 L672.6,843.5 L673.7,842.3 L674.8,843.5 L676.4,843.4 L676.4,845.1 Z" fill="#0000ff"/><path d="M684.3,843.8 L683.0,845.0 L683.1,846.6 L681.5,846.5 L680.4,847.7 L679.3,846.5 L677.6,846.6 L677.7,845.0 L676.5,843.8 L677.7,842.7 L677.6,841.1 L679.3,841.2 L680.4,839.9 L681.5,841.2 L683.1,841.1 L683.0,842.7 Z" fill="#0000ff"/><path d="M690.6,842.1 L689.4,843.2 L689.5,844.9 L687.8,844.8 L686.7,846.0 L685.6,844.8 L684.0,844.9 L684.1,843.2 L682.8,842.1 L684.1,841.0 L684.0,839.3 L685.6,839.4 L686.7,838.2 L687.8,839.4 L689.5,839.3 L689.4,841.0 Z" fill="#0000ff"/><path d="M696.4,840.1 L695.2,841.2 L695.3,842.8 L693.7,842.7 L692.5,844.0 L691.4,842.7 L689.8,842.8 L689.9,841.2 L688.6,840.1 L689.9,839.0 L689.8,837.3 L691.4,837.4 L692.5,836.2 L693.7,837.4 L695.3,837.3 L695.2,839.0 Z" fill="#0000ff"/><path d="M702.3,838.0 L701.0,839.1 L701.1,840.8 L699.5,840.7 L698.4,841.9 L697.2,840.7 L695.6,840.8 L695.7,839.1 L694.5,838.0 L695.7,836.9 L695.6,835.3 L697.2,835.4 L698.4,834.1 L699.5,835.4 L701.1,835.3 L701.0,836.9 Z" fill="#0000ff"/><path d="M708.1,841.5 L706.8,842.6 L706.9,844.3 L705.3,844.2 L704.2,845.4 L703.1,844.2 L701.4,844.3 L701.5,842.6 L700.3,841.5 L701.5,840.4 L701.4,838.8 L703.1,838.9 L704.2,837.6 L705.3,838.9 L706.9,838.8 L706.8,840.4 Z" fill="#0000ff"/><path d="M714.4,840.9 L713.2,842.1 L713.3,843.7 L711.6,843.6 L710.5,844.8 L709.4,843.6 L707.8,843.7 L707.9,842.1 L706.6,840.9 L707.9,839.8 L707.8,838.2 L709.4,838.3 L710.5,837.0 L711.6,838.3 L713.3,838.2 L713.2,839.8 Z" fill="#0000ff"/><path d="M719.7,840.4 L718.4,841.5 L718.5,843.1 L716.9,843.0 L715.8,844.3 L714.7,843.0 L713.0,843.1 L713.1,841.5 L711.9,840.4 L713.1,839.3 L713.0,837.6 L714.7,837.7 L715.8,836.5 L716.9,837.7 L718.5,837.6 L718.4,839.3 Z" fill="#0000ff"/><path d="M726.0,839.2 L724.8,840.3 L724.9,842.0 L723.3,841.9 L722.1,843.1 L721.0,841.9 L719.4,842.0 L719.5,840.3 L718.2,839.2 L719.5,838.1 L719.4,836.4 L721.0,836.5 L722.1,835.3 L723.3,836.5 L724.9,836.4 L724.8,838.1 Z" fill="#0000ff"/><path d="M731.9,838.6 L730.6,839.7 L730.7,841.4 L729.1,841.3 L728.0,842.5 L726.8,841.3 L725.2,841.4 L725.3,839.7 L724.1,838.6 L725.3,837.5 L725.2,835.9 L726.8,836.0 L728.0,834.7 L729.1,836.0 L730.7,835.9 L730.6,837.5 Z" fill="#0000ff"/><path d="M738.5,837.2 L737.3,838.3 L737.4,839.9 L735.7,839.8 L734.6,841.1 L733.5,839.8 L731.9,839.9 L732.0,838.3 L730.7,837.2 L732.0,836.1 L731.9,834.4 L733.5,834.5 L734.6,833.3 L735.7,834.5 L737.4,834.4 L737.3,836.1 Z" fill="#0000ff"/><path d="M744.3,832.2 L743.1,833.3 L743.2,835.0 L741.5,834.9 L740.4,836.1 L739.3,834.9 L737.7,835.0 L737.8,833.3 L736.5,832.2 L737.8,831.1 L737.7,829.5 L739.3,829.6 L740.4,828.3 L741.5,829.6 L743.2,829.5 L743.1,831.1 Z" fill="#0000ff"/><path d="M749.3,828.2 L748.0,829.3 L748.1,830.9 L746.5,830.8 L745.4,832.1 L744.3,830.8 L742.6,830.9 L742.7,829.3 L741.5,828.2 L742.7,827.1 L742.6,825.4 L744.3,825.5 L745.4,824.3 L746.5,825.5 L748.1,825.4 L748.0,827.1 Z" fill="#0000ff"/><path d="M754.5,829.3 L753.3,830.4 L753.3,832.1 L751.7,832.0 L750.6,833.2 L749.5,832.0 L747.8,832.1 L747.9,830.4 L746.7,829.3 L747.9,828.2 L747.8,826.6 L749.5,826.7 L750.6,825.4 L751.7,826.7 L753.3,826.6 L753.3,828.2 Z" fill="#0000ff"/><path d="M760.3,832.2 L759.1,833.3 L759.1,835.0 L757.5,834.9 L756.4,836.1 L755.3,834.9 L753.6,835.0 L753.7,833.3 L752.5,832.2 L753.7,831.1 L753.6,829.5 L755.3,829.6 L756.4,828.3 L757.5,829.6 L759.1,829.5 L759.1,831.1 Z" fill="#0000ff"/><path d="M764.1,807.3 L762.8,808.4 L762.9,810.0 L761.3,810.0 L760.2,811.2 L759.1,810.0 L757.4,810.0 L757.5,808.4 L756.3,807.3 L757.5,806.2 L757.4,804.5 L759.1,804.6 L760.2,803.4 L761.3,804.6 L762.9,804.5 L762.8,806.2 Z" fill="#0000ff"/><path d="M767.0,796.5 L765.7,797.7 L765.8,799.3 L764.2,799.2 L763.1,800.4 L762.0,799.2 L760.3,799.3 L760.4,797.7 L759.2,796.5 L760.4,795.4 L760.3,793.8 L762.0,793.9 L763.1,792.6 L764.2,793.9 L765.8,793.8 L765.7,795.4 Z" fill="#0000ff"/><path d="M771.3,817.4 L770.1,818.5 L770.2,820.2 L768.5,820.1 L767.4,821.3 L766.3,820.1 L764.7,820.2 L764.8,818.5 L763.5,817.4 L764.8,816.3 L764.7,814.7 L766.3,814.8 L767.4,813.5 L768.5,814.8 L770.2,814.7 L770.1,816.3 Z" fill="#0000ff"/><path d="M776.3,821.2 L775.0,822.3 L775.1,824.0 L773.5,823.9 L772.4,825.1 L771.2,823.9 L769.6,824.0 L769.7,822.3 L768.5,821.2 L769.7,820.1 L769.6,818.5 L771.2,818.5 L772.4,817.3 L773.5,818.5 L775.1,818.5 L775.0,820.1 Z" fill="#0000ff"/><path d="M781.5,824.1 L780.2,825.2 L780.3,826.9 L778.7,826.8 L777.6,828.0 L776.5,826.8 L774.8,826.9 L774.9,825.2 L773.7,824.1 L774.9,823.0 L774.8,821.4 L776.5,821.4 L777.6,820.2 L778.7,821.4 L780.3,821.4 L780.2,823.0 Z" fill="#0000ff"/><path d="M785.8,813.4 L784.6,814.5 L784.7,816.1 L783.0,816.0 L781.9,817.3 L780.8,816.0 L779.2,816.1 L779.3,814.5 L778.0,813.4 L779.3,812.3 L779.2,810.6 L780.8,810.7 L781.9,809.5 L783.0,810.7 L784.7,810.6 L784.6,812.3 Z" fill="#0000ff"/><path d="M790.8,815.4 L789.5,816.5 L789.6,818.2 L788.0,818.1 L786.9,819.3 L785.8,818.1 L784.1,818.2 L784.2,816.5 L783.0,815.4 L784.2,814.3 L784.1,812.7 L785.8,812.7 L786.9,811.5 L788.0,812.7 L789.6,812.7 L789.5,814.3 Z" fill="#0000ff"/><path d="M795.1,817.7 L793.9,818.8 L794.0,820.5 L792.3,820.4 L791.2,821.6 L790.1,820.4 L788.5,820.5 L788.5,818.8 L787.3,817.7 L788.5,816.6 L788.5,815.0 L790.1,815.1 L791.2,813.8 L792.3,815.1 L794.0,815.0 L793.9,816.6 Z" fill="#0000ff"/><path d="M799.5,816.9 L798.2,818.0 L798.3,819.6 L796.7,819.5 L795.6,820.8 L794.5,819.5 L792.8,819.6 L792.9,818.0 L791.7,816.9 L792.9,815.8 L792.8,814.1 L794.5,814.2 L795.6,813.0 L796.7,814.2 L798.3,814.1 L798.2,815.8 Z" fill="#0000ff"/><path d="M803.8,816.0 L802.6,817.1 L802.7,818.7 L801.0,818.7 L799.9,819.9 L798.8,818.7 L797.2,818.7 L797.3,817.1 L796.0,816.0 L797.3,814.9 L797.2,813.2 L798.8,813.3 L799.9,812.1 L801.0,813.3 L802.7,813.2 L802.6,814.9 Z" fill="#0000ff"/><path d="M808.2,817.4 L806.9,818.5 L807.0,820.2 L805.4,820.1 L804.3,821.3 L803.2,820.1 L801.5,820.2 L801.6,818.5 L800.4,817.4 L801.6,816.3 L801.5,814.7 L803.2,814.8 L804.3,813.5 L805.4,814.8 L807.0,814.7 L806.9,816.3 Z" fill="#0000ff"/><path d="M811.1,804.7 L809.8,805.8 L809.9,807.4 L808.3,807.3 L807.2,808.6 L806.1,807.3 L804.4,807.4 L804.5,805.8 L803.3,804.7 L804.5,803.6 L804.4,801.9 L806.1,802.0 L807.2,800.8 L808.3,802.0 L809.9,801.9 L809.8,803.6 Z" fill="#0000ff"/><path d="M815.4,801.5 L814.2,802.6 L814.3,804.2 L812.6,804.1 L811.5,805.4 L810.4,804.1 L808.8,804.2 L808.9,802.6 L807.6,801.5 L808.9,800.4 L808.8,798.7 L810.4,798.8 L811.5,797.6 L812.6,798.8 L814.3,798.7 L814.2,800.4 Z" fill="#0000ff"/><path d="M818.9,806.7 L817.7,807.8 L817.8,809.5 L816.1,809.4 L815.0,810.6 L813.9,809.4 L812.3,809.5 L812.3,807.8 L811.1,806.7 L812.3,805.6 L812.3,803.9 L813.9,804.0 L815.0,802.8 L816.1,804.0 L817.8,803.9 L817.7,805.6 Z" fill="#0000ff"/><path d="M824.1,811.1 L822.9,812.2 L823.0,813.8 L821.3,813.7 L820.2,815.0 L819.1,813.7 L817.5,813.8 L817.6,812.2 L816.3,811.1 L817.6,810.0 L817.5,808.3 L819.1,808.4 L820.2,807.2 L821.3,808.4 L823.0,808.3 L822.9,810.0 Z" fill="#0000ff"/><path d="M828.5,813.1 L827.3,814.2 L827.3,815.8 L825.7,815.8 L824.6,817.0 L823.5,815.8 L821.8,815.8 L821.9,814.2 L820.7,813.1 L821.9,812.0 L821.8,810.3 L823.5,810.4 L824.6,809.2 L825.7,810.4 L827.3,810.3 L827.3,812.0 Z" fill="#0000ff"/><path d="M832.3,814.0 L831.0,815.1 L831.1,816.7 L829.5,816.6 L828.4,817.9 L827.3,816.6 L825.6,816.7 L825.7,815.1 L824.5,814.0 L825.7,812.9 L825.6,811.2 L827.3,811.3 L828.4,810.1 L829.5,811.3 L831.1,811.2 L831.0,812.9 Z" fill="#0000ff"/><path d="M836.3,814.5 L835.1,815.6 L835.2,817.3 L833.5,817.2 L832.4,818.4 L831.3,817.2 L829.7,817.3 L829.8,815.6 L828.5,814.5 L829.8,813.4 L829.7,811.8 L831.3,811.9 L832.4,810.6 L833.5,811.9 L835.2,811.8 L835.1,813.4 Z" fill="#0000ff"/><path d="M840.1,803.8 L838.9,804.9 L839.0,806.6 L837.3,806.5 L836.2,807.7 L835.1,806.5 L833.4,806.6 L833.5,804.9 L832.3,803.8 L833.5,802.7 L833.4,801.0 L835.1,801.1 L836.2,799.9 L837.3,801.1 L839.0,801.0 L838.9,802.7 Z" fill="#0000ff"/><path d="M844.4,800.9 L843.2,802.0 L843.3,803.7 L841.6,803.6 L840.5,804.8 L839.4,803.6 L837.8,803.7 L837.9,802.0 L836.6,800.9 L837.9,799.8 L837.8,798.1 L839.4,798.2 L840.5,797.0 L841.6,798.2 L843.3,798.1 L843.2,799.8 Z" fill="#0000ff"/><path d="M847.3,804.4 L846.1,805.5 L846.2,807.1 L844.6,807.0 L843.4,808.3 L842.3,807.0 L840.7,807.1 L840.8,805.5 L839.5,804.4 L840.8,803.3 L840.7,801.6 L842.3,801.7 L843.4,800.5 L844.6,801.7 L846.2,801.6 L846.1,803.3 Z" fill="#0000ff"/><path d="M850.2,805.3 L849.0,806.4 L849.1,808.0 L847.5,807.9 L846.3,809.2 L845.2,807.9 L843.6,808.0 L843.7,806.4 L842.4,805.3 L843.7,804.1 L843.6,802.5 L845.2,802.6 L846.3,801.4 L847.5,802.6 L849.1,802.5 L849.0,804.1 Z" fill="#0000ff"/><path d="M854.6,805.3 L853.4,806.4 L853.5,808.0 L851.8,807.9 L850.7,809.2 L849.6,807.9 L847.9,808.0 L848.0,806.4 L846.8,805.3 L848.0,804.1 L847.9,802.5 L849.6,802.6 L850.7,801.4 L851.8,802.6 L853.5,802.5 L853.4,804.1 Z" fill="#0000ff"/><path d="M858.4,805.3 L857.1,806.4 L857.2,808.0 L855.6,807.9 L854.5,809.2 L853.4,807.9 L851.7,808.0 L851.8,806.4 L850.6,805.3 L851.8,804.1 L851.7,802.5 L853.4,802.6 L854.5,801.4 L855.6,802.6 L857.2,802.5 L857.1,804.1 Z" fill="#0000ff"/><path d="M861.9,803.8 L860.6,804.9 L860.7,806.6 L859.1,806.5 L858.0,807.7 L856.9,806.5 L855.2,806.6 L855.3,804.9 L854.1,803.8 L855.3,802.7 L855.2,801.0 L856.9,801.1 L858.0,799.9 L859.1,801.1 L860.7,801.0 L860.6,802.7 Z" fill="#0000ff"/><path d="M864.2,796.5 L862.9,797.7 L863.0,799.3 L861.4,799.2 L860.3,800.4 L859.2,799.2 L857.5,799.3 L857.6,797.7 L856.4,796.5 L857.6,795.4 L857.5,793.8 L859.2,793.9 L860.3,792.6 L861.4,793.9 L863.0,793.8 L862.9,795.4 Z" fill="#0000ff"/><path d="M867.7,766.1 L866.4,767.2 L866.5,768.8 L864.9,768.7 L863.8,770.0 L862.7,768.7 L861.0,768.8 L861.1,767.2 L859.9,766.1 L861.1,765.0 L861.0,763.3 L862.7,763.4 L863.8,762.2 L864.9,763.4 L866.5,763.3 L866.4,765.0 Z" fill="#0000ff"/><path d="M869.1,763.2 L867.9,764.3 L868.0,765.9 L866.3,765.8 L865.2,767.1 L864.1,765.8 L862.5,765.9 L862.5,764.3 L861.3,763.2 L862.5,762.1 L862.5,760.4 L864.1,760.5 L865.2,759.3 L866.3,760.5 L868.0,760.4 L867.9,762.1 Z" fill="#0000ff"/><path d="M870.0,795.1 L868.7,796.2 L868.8,797.9 L867.2,797.8 L866.1,799.0 L865.0,797.8 L863.3,797.9 L863.4,796.2 L862.2,795.1 L863.4,794.0 L863.3,792.3 L865.0,792.4 L866.1,791.2 L867.2,792.4 L868.8,792.3 L868.7,794.0 Z" fill="#0000ff"/><path d="M873.5,792.2 L872.2,793.3 L872.3,795.0 L870.7,794.9 L869.6,796.1 L868.5,794.9 L866.8,795.0 L866.9,793.3 L865.7,792.2 L866.9,791.1 L866.8,789.4 L868.5,789.5 L869.6,788.3 L870.7,789.5 L872.3,789.4 L872.2,791.1 Z" fill="#0000ff"/><path d="M876.4,776.2 L875.1,777.3 L875.2,779.0 L873.6,778.9 L872.5,780.1 L871.4,778.9 L869.7,779.0 L869.8,777.3 L868.6,776.2 L869.8,775.1 L869.7,773.5 L871.4,773.6 L872.5,772.3 L873.6,773.6 L875.2,773.5 L875.1,775.1 Z" fill="#0000ff"/><path d="M877.8,777.1 L876.6,778.2 L876.7,779.9 L875.0,779.8 L873.9,781.0 L872.8,779.8 L871.2,779.9 L871.3,778.2 L870.0,777.1 L871.3,776.0 L871.2,774.3 L872.8,774.4 L873.9,773.2 L875.0,774.4 L876.7,774.3 L876.6,776.0 Z" fill="#0000ff"/><path d="M881.6,770.4 L880.4,771.5 L880.4,773.2 L878.8,773.1 L877.7,774.3 L876.6,773.1 L874.9,773.2 L875.0,771.5 L873.8,770.4 L875.0,769.3 L874.9,767.7 L876.6,767.8 L877.7,766.5 L878.8,767.8 L880.4,767.7 L880.4,769.3 Z" fill="#0000ff"/><path d="M883.6,783.5 L882.4,784.6 L882.5,786.2 L880.8,786.2 L879.7,787.4 L878.6,786.2 L877.0,786.2 L877.1,784.6 L875.8,783.5 L877.1,782.4 L877.0,780.7 L878.6,780.8 L879.7,779.6 L880.8,780.8 L882.5,780.7 L882.4,782.4 Z" fill="#0000ff"/><path d="M886.5,787.8 L885.3,788.9 L885.4,790.6 L883.7,790.5 L882.6,791.7 L881.5,790.5 L879.9,790.6 L880.0,788.9 L878.7,787.8 L880.0,786.7 L879.9,785.1 L881.5,785.2 L882.6,783.9 L883.7,785.2 L885.4,785.1 L885.3,786.7 Z" fill="#0000ff"/><path d="M888.0,787.8 L886.7,788.9 L886.8,790.6 L885.2,790.5 L884.1,791.7 L883.0,790.5 L881.3,790.6 L881.4,788.9 L880.2,787.8 L881.4,786.7 L881.3,785.1 L883.0,785.2 L884.1,783.9 L885.2,785.2 L886.8,785.1 L886.7,786.7 Z" fill="#0000ff"/><path d="M890.9,782.0 L889.6,783.1 L889.7,784.8 L888.1,784.7 L887.0,785.9 L885.9,784.7 L884.2,784.8 L884.3,783.1 L883.1,782.0 L884.3,780.9 L884.2,779.3 L885.9,779.4 L887.0,778.1 L888.1,779.4 L889.7,779.3 L889.6,780.9 Z" fill="#0000ff"/><path d="M891.5,736.5 L890.2,737.6 L890.3,739.2 L888.7,739.1 L887.6,740.4 L886.5,739.1 L884.8,739.2 L884.9,737.6 L883.7,736.5 L884.9,735.4 L884.8,733.7 L886.5,733.8 L887.6,732.6 L888.7,733.8 L890.3,733.7 L890.2,735.4 Z" fill="#0000ff"/><path d="M892.3,755.9 L891.1,757.0 L891.2,758.7 L889.5,758.6 L888.4,759.8 L887.3,758.6 L885.7,758.7 L885.8,757.0 L884.5,755.9 L885.8,754.8 L885.7,753.2 L887.3,753.3 L888.4,752.0 L889.5,753.3 L891.2,753.2 L891.1,754.8 Z" fill="#0000ff"/><path d="M893.8,760.3 L892.5,761.4 L892.6,763.0 L891.0,762.9 L889.9,764.2 L888.8,762.9 L887.1,763.0 L887.2,761.4 L886.0,760.3 L887.2,759.2 L887.1,757.5 L888.8,757.6 L889.9,756.4 L891.0,757.6 L892.6,757.5 L892.5,759.2 Z" fill="#0000ff"/><path d="M895.2,763.2 L894.0,764.3 L894.1,765.9 L892.4,765.8 L891.3,767.1 L890.2,765.8 L888.6,765.9 L888.7,764.3 L887.4,763.2 L888.7,762.1 L888.6,760.4 L890.2,760.5 L891.3,759.3 L892.4,760.5 L894.1,760.4 L894.0,762.1 Z" fill="#0000ff"/><path d="M896.7,774.8 L895.4,775.9 L895.5,777.5 L893.9,777.4 L892.8,778.7 L891.7,777.4 L890.0,777.5 L890.1,775.9 L888.9,774.8 L890.1,773.7 L890.0,772.0 L891.7,772.1 L892.8,770.9 L893.9,772.1 L895.5,772.0 L895.4,773.7 Z" fill="#0000ff"/><path d="M898.1,777.7 L896.9,778.8 L897.0,780.4 L895.3,780.4 L894.2,781.6 L893.1,780.4 L891.5,780.4 L891.6,778.8 L890.3,777.7 L891.6,776.6 L891.5,774.9 L893.1,775.0 L894.2,773.8 L895.3,775.0 L897.0,774.9 L896.9,776.6 Z" fill="#0000ff"/><path d="M899.6,774.8 L898.3,775.9 L898.4,777.5 L896.8,777.4 L895.7,778.7 L894.6,777.4 L892.9,777.5 L893.0,775.9 L891.8,774.8 L893.0,773.7 L892.9,772.0 L894.6,772.1 L895.7,770.9 L896.8,772.1 L898.4,772.0 L898.3,773.7 Z" fill="#0000ff"/><path d="M902.5,774.8 L901.3,775.9 L901.3,777.5 L899.7,777.4 L898.6,778.7 L897.5,777.4 L895.8,777.5 L895.9,775.9 L894.7,774.8 L895.9,773.7 L895.8,772.0 L897.5,772.1 L898.6,770.9 L899.7,772.1 L901.3,772.0 L901.3,773.7 Z" fill="#0000ff"/><path d="M903.9,782.0 L902.7,783.1 L902.8,784.8 L901.1,784.7 L900.0,785.9 L898.9,784.7 L897.3,784.8 L897.4,783.1 L896.1,782.0 L897.4,780.9 L897.3,779.3 L898.9,779.4 L900.0,778.1 L901.1,779.4 L902.8,779.3 L902.7,780.9 Z" fill="#0000ff"/><path d="M905.4,734.2 L904.2,735.3 L904.2,736.9 L902.6,736.8 L901.5,738.1 L900.4,736.8 L898.7,736.9 L898.8,735.3 L897.6,734.2 L898.8,733.1 L898.7,731.4 L900.4,731.5 L901.5,730.3 L902.6,731.5 L904.2,731.4 L904.2,733.1 Z" fill="#0000ff"/><path d="M906.0,684.2 L904.7,685.3 L904.8,687.0 L903.2,686.9 L902.1,688.1 L901.0,686.9 L899.3,687.0 L899.4,685.3 L898.2,684.2 L899.4,683.1 L899.3,681.5 L901.0,681.6 L902.1,680.3 L903.2,681.6 L904.8,681.5 L904.7,683.1 Z" fill="#0000ff"/><path d="M906.8,780.6 L905.6,781.7 L905.7,783.3 L904.0,783.3 L902.9,784.5 L901.8,783.3 L900.2,783.3 L900.3,781.7 L899.0,780.6 L900.3,779.5 L900.2,777.8 L901.8,777.9 L902.9,776.7 L904.0,777.9 L905.7,777.8 L905.6,779.5 Z" fill="#0000ff"/><path d="M908.3,779.1 L907.1,780.2 L907.1,781.9 L905.5,781.8 L904.4,783.0 L903.3,781.8 L901.6,781.9 L901.7,780.2 L900.5,779.1 L901.7,778.0 L901.6,776.4 L903.3,776.5 L904.4,775.2 L905.5,776.5 L907.1,776.4 L907.1,778.0 Z" fill="#0000ff"/><path d="M909.7,667.4 L908.5,668.5 L908.6,670.2 L906.9,670.1 L905.8,671.3 L904.7,670.1 L903.1,670.2 L903.2,668.5 L901.9,667.4 L903.2,666.3 L903.1,664.7 L904.7,664.7 L905.8,663.5 L906.9,664.7 L908.6,664.7 L908.5,666.3 Z" fill="#0000ff"/><path d="M910.6,728.4 L909.4,729.5 L909.5,731.1 L907.8,731.0 L906.7,732.3 L905.6,731.0 L904.0,731.1 L904.0,729.5 L902.8,728.4 L904.0,727.2 L904.0,725.6 L905.6,725.7 L906.7,724.5 L907.8,725.7 L909.5,725.6 L909.4,727.2 Z" fill="#0000ff"/><path d="M911.2,745.8 L910.0,746.9 L910.0,748.5 L908.4,748.4 L907.3,749.7 L906.2,748.4 L904.5,748.5 L904.6,746.9 L903.4,745.8 L904.6,744.7 L904.5,743.0 L906.2,743.1 L907.3,741.9 L908.4,743.1 L910.0,743.0 L910.0,744.7 Z" fill="#0000ff"/><path d="M912.6,751.6 L911.4,752.7 L911.5,754.3 L909.8,754.2 L908.7,755.5 L907.6,754.2 L906.0,754.3 L906.1,752.7 L904.8,751.6 L906.1,750.5 L906.0,748.8 L907.6,748.9 L908.7,747.7 L909.8,748.9 L911.5,748.8 L911.4,750.5 Z" fill="#0000ff"/><path d="M914.1,742.9 L912.9,744.0 L912.9,745.6 L911.3,745.5 L910.2,746.8 L909.1,745.5 L907.4,745.6 L907.5,744.0 L906.3,742.9 L907.5,741.8 L907.4,740.1 L909.1,740.2 L910.2,739.0 L911.3,740.2 L912.9,740.1 L912.9,741.8 Z" fill="#0000ff"/><path d="M915.5,740.0 L914.3,741.1 L914.4,742.7 L912.7,742.6 L911.6,743.9 L910.5,742.6 L908.9,742.7 L909.0,741.1 L907.7,740.0 L909.0,738.9 L908.9,737.2 L910.5,737.3 L911.6,736.1 L912.7,737.3 L914.4,737.2 L914.3,738.9 Z" fill="#0000ff"/><path d="M917.0,760.3 L915.8,761.4 L915.9,763.0 L914.2,762.9 L913.1,764.2 L912.0,762.9 L910.3,763.0 L910.4,761.4 L909.2,760.3 L910.4,759.2 L910.3,757.5 L912.0,757.6 L913.1,756.4 L914.2,757.6 L915.9,757.5 L915.8,759.2 Z" fill="#0000ff"/><path d="M918.4,771.9 L917.2,773.0 L917.3,774.6 L915.6,774.5 L914.5,775.8 L913.4,774.5 L911.8,774.6 L911.9,773.0 L910.6,771.9 L911.9,770.8 L911.8,769.1 L913.4,769.2 L914.5,768.0 L915.6,769.2 L917.3,769.1 L917.2,770.8 Z" fill="#0000ff"/><path d="M919.9,754.5 L918.7,755.6 L918.8,757.2 L917.1,757.1 L916.0,758.4 L914.9,757.1 L913.2,757.2 L913.3,755.6 L912.1,754.5 L913.3,753.4 L913.2,751.7 L914.9,751.8 L916.0,750.6 L917.1,751.8 L918.8,751.7 L918.7,753.4 Z" fill="#0000ff"/><path d="M919.9,740.0 L918.7,741.1 L918.8,742.7 L917.1,742.6 L916.0,743.9 L914.9,742.6 L913.2,742.7 L913.3,741.1 L912.1,740.0 L913.3,738.9 L913.2,737.2 L914.9,737.3 L916.0,736.1 L917.1,737.3 L918.8,737.2 L918.7,738.9 Z" fill="#0000ff"/><path d="M917.0,745.8 L915.8,746.9 L915.9,748.5 L914.2,748.4 L913.1,749.7 L912.0,748.4 L910.3,748.5 L910.4,746.9 L909.2,745.8 L910.4,744.7 L910.3,743.0 L912.0,743.1 L913.1,741.9 L914.2,743.1 L915.9,743.0 L915.8,744.7 Z" fill="#0000ff"/><path d="M912.6,766.1 L911.4,767.2 L911.5,768.8 L909.8,768.7 L908.7,770.0 L907.6,768.7 L906.0,768.8 L906.1,767.2 L904.8,766.1 L906.1,765.0 L906.0,763.3 L907.6,763.4 L908.7,762.2 L909.8,763.4 L911.5,763.3 L911.4,765.0 Z" fill="#0000ff"/><path d="M911.2,771.9 L910.0,773.0 L910.0,774.6 L908.4,774.5 L907.3,775.8 L906.2,774.5 L904.5,774.6 L904.6,773.0 L903.4,771.9 L904.6,770.8 L904.5,769.1 L906.2,769.2 L907.3,768.0 L908.4,769.2 L910.0,769.1 L910.0,770.8 Z" fill="#0000ff"/><path d="M909.7,777.7 L908.5,778.8 L908.6,780.4 L906.9,780.4 L905.8,781.6 L904.7,780.4 L903.1,780.4 L903.2,778.8 L901.9,777.7 L903.2,776.6 L903.1,774.9 L904.7,775.0 L905.8,773.8 L906.9,775.0 L908.6,774.9 L908.5,776.6 Z" fill="#0000ff"/><path d="M914.1,754.5 L912.9,755.6 L912.9,757.2 L911.3,757.1 L910.2,758.4 L909.1,757.1 L907.4,757.2 L907.5,755.6 L906.3,754.5 L907.5,753.4 L907.4,751.7 L909.1,751.8 L910.2,750.6 L911.3,751.8 L912.9,751.7 L912.9,753.4 Z" fill="#0000ff"/><path d="M915.5,748.7 L914.3,749.8 L914.4,751.4 L912.7,751.3 L911.6,752.6 L910.5,751.3 L908.9,751.4 L909.0,749.8 L907.7,748.7 L909.0,747.6 L908.9,745.9 L910.5,746.0 L911.6,744.8 L912.7,746.0 L914.4,745.9 L914.3,747.6 Z" fill="#0000ff"/><path d="M917.6,737.1 L916.3,738.2 L916.4,739.8 L914.8,739.7 L913.7,741.0 L912.6,739.7 L910.9,739.8 L911.0,738.2 L909.8,737.1 L911.0,736.0 L910.9,734.3 L912.6,734.4 L913.7,733.2 L914.8,734.4 L916.4,734.3 L916.3,736.0 Z" fill="#0000ff"/><path d="M913.5,737.1 L912.3,738.2 L912.4,739.8 L910.7,739.7 L909.6,741.0 L908.5,739.7 L906.9,739.8 L906.9,738.2 L905.7,737.1 L906.9,736.0 L906.9,734.3 L908.5,734.4 L909.6,733.2 L910.7,734.4 L912.4,734.3 L912.3,736.0 Z" fill="#0000ff"/><path d="M918.4,764.6 L917.2,765.7 L917.3,767.4 L915.6,767.3 L914.5,768.5 L913.4,767.3 L911.8,767.4 L911.9,765.7 L910.6,764.6 L911.9,763.5 L911.8,761.9 L913.4,762.0 L914.5,760.7 L915.6,762.0 L917.3,761.9 L917.2,763.5 Z" fill="#0000ff"/><path d="M915.5,774.8 L914.3,775.9 L914.4,777.5 L912.7,777.4 L911.6,778.7 L910.5,777.4 L908.9,777.5 L909.0,775.9 L907.7,774.8 L909.0,773.7 L908.9,772.0 L910.5,772.1 L911.6,770.9 L912.7,772.1 L914.4,772.0 L914.3,773.7 Z" fill="#0000ff"/><path d="M911.8,760.3 L910.5,761.4 L910.6,763.0 L909.0,762.9 L907.9,764.2 L906.8,762.9 L905.1,763.0 L905.2,761.4 L904.0,760.3 L905.2,759.2 L905.1,757.5 L906.8,757.6 L907.9,756.4 L909.0,757.6 L910.6,757.5 L910.5,759.2 Z" fill="#0000ff"/><path d="M919.3,760.3 L918.1,761.4 L918.2,763.0 L916.5,762.9 L915.4,764.2 L914.3,762.9 L912.7,763.0 L912.7,761.4 L911.5,760.3 L912.7,759.2 L912.7,757.5 L914.3,757.6 L915.4,756.4 L916.5,757.6 L918.2,757.5 L918.1,759.2 Z" fill="#0000ff"/><path d="M667.5,845.3 L671.7,844.5 L675.9,843.7 L680.1,843.0 L684.3,842.2 L688.5,841.5 L692.7,840.7 L696.9,840.0 L701.1,839.2 L705.3,838.4 L709.4,837.7 L713.6,836.9 L717.8,836.1 L722.0,835.3 L726.2,834.4 L730.4,833.6 L734.6,832.7 L738.8,831.8 L743.0,830.9 L747.2,830.0 L751.4,829.0 L755.6,828.0 L759.8,827.0 L764.0,825.9 L768.2,824.8 L772.4,823.7 L776.6,822.5 L780.8,821.3 L785.0,820.1 L789.2,818.8 L793.3,817.4 L797.5,816.0 L801.7,814.6 L805.9,813.1 L810.1,811.6 L814.3,810.0 L818.5,808.3 L822.7,806.6 L826.9,804.9 L831.1,803.0 L835.3,801.1 L839.5,799.2 L843.7,797.1 L847.9,795.0 L852.1,792.9 L856.3,790.6 L860.5,788.3 L864.7,785.9 L868.9,783.4 L873.1,780.9 L877.2,778.3 L881.4,775.5 L885.6,772.7 L889.8,769.8 L894.0,766.9 L898.2,763.8 L902.4,760.6 L906.6,757.4 L910.8,754.0 L915.0,750.6" stroke="#20e0f0" stroke-width="2.2" fill="none"/><path d="M663,876 V1064.5" stroke="#000" stroke-width="2" shape-rendering="crispEdges"/><path d="M662,1063.5 H923.5" stroke="#000" stroke-width="2" shape-rendering="crispEdges"/><path d="M658,1059.5 H662" stroke="#606060" stroke-width="1" shape-rendering="crispEdges"/><path d="M658,1039.5 H662" stroke="#606060" stroke-width="1" shape-rendering="crispEdges"/><path d="M658,1019.5 H662" stroke="#606060" stroke-width="1" shape-rendering="crispEdges"/><path d="M658,999.5 H662" stroke="#606060" stroke-width="1" shape-rendering="crispEdges"/><path d="M658,979.5 H662" stroke="#606060" stroke-width="1" shape-rendering="crispEdges"/><path d="M658,960.5 H662" stroke="#606060" stroke-width="1" shape-rendering="crispEdges"/><path d="M658,940.5 H662" stroke="#606060" stroke-width="1" shape-rendering="crispEdges"/><path d="M658,920.5 H662" stroke="#606060" stroke-width="1" shape-rendering="crispEdges"/><path d="M658,900.5 H662" stroke="#606060" stroke-width="1" shape-rendering="crispEdges"/><path d="M658,880.5 H662" stroke="#606060" stroke-width="1" shape-rendering="crispEdges"/><path d="M660,1049.5 H662" stroke="#8a8a8a" stroke-width="1" shape-rendering="crispEdges"/><path d="M660,1029.5 H662" stroke="#8a8a8a" stroke-width="1" shape-rendering="crispEdges"/><path d="M660,1009.5 H662" stroke="#8a8a8a" stroke-width="1" shape-rendering="crispEdges"/><path d="M660,989.5 H662" stroke="#8a8a8a" stroke-width="1" shape-rendering="crispEdges"/><path d="M660,969.5 H662" stroke="#8a8a8a" stroke-width="1" shape-rendering="crispEdges"/><path d="M660,950.5 H662" stroke="#8a8a8a" stroke-width="1" shape-rendering="crispEdges"/><path d="M660,930.5 H662" stroke="#8a8a8a" stroke-width="1" shape-rendering="crispEdges"/><path d="M660,910.5 H662" stroke="#8a8a8a" stroke-width="1" shape-rendering="crispEdges"/><path d="M660,890.5 H662" stroke="#8a8a8a" stroke-width="1" shape-rendering="crispEdges"/><path d="M694.5,1064.5 V1068.5" stroke="#606060" stroke-width="1" shape-rendering="crispEdges"/><path d="M740.5,1064.5 V1068.5" stroke="#606060" stroke-width="1" shape-rendering="crispEdges"/><path d="M786.5,1064.5 V1068.5" stroke="#606060" stroke-width="1" shape-rendering="crispEdges"/><path d="M832.5,1064.5 V1068.5" stroke="#606060" stroke-width="1" shape-rendering="crispEdges"/><path d="M878.5,1064.5 V1068.5" stroke="#606060" stroke-width="1" shape-rendering="crispEdges"/><path d="M666.5,1064.5 V1066.5" stroke="#606060" stroke-width="1" shape-rendering="crispEdges"/><path d="M676.5,1064.5 V1066.5" stroke="#606060" stroke-width="1" shape-rendering="crispEdges"/><path d="M685.5,1064.5 V1066.5" stroke="#606060" stroke-width="1" shape-rendering="crispEdges"/><path d="M703.5,1064.5 V1066.5" stroke="#606060" stroke-width="1" shape-rendering="crispEdges"/><path d="M712.5,1064.5 V1066.5" stroke="#606060" stroke-width="1" shape-rendering="crispEdges"/><path d="M722.5,1064.5 V1066.5" stroke="#606060" stroke-width="1" shape-rendering="crispEdges"/><path d="M731.5,1064.5 V1066.5" stroke="#606060" stroke-width="1" shape-rendering="crispEdges"/><path d="M749.5,1064.5 V1066.5" stroke="#606060" stroke-width="1" shape-rendering="crispEdges"/><path d="M758.5,1064.5 V1066.5" stroke="#606060" stroke-width="1" shape-rendering="crispEdges"/><path d="M767.5,1064.5 V1066.5" stroke="#606060" stroke-width="1" shape-rendering="crispEdges"/><path d="M777.5,1064.5 V1066.5" stroke="#606060" stroke-width="1" shape-rendering="crispEdges"/><path d="M795.5,1064.5 V1066.5" stroke="#606060" stroke-width="1" shape-rendering="crispEdges"/><path d="M804.5,1064.5 V1066.5" stroke="#606060" stroke-width="1" shape-rendering="crispEdges"/><path d="M813.5,1064.5 V1066.5" stroke="#606060" stroke-width="1" shape-rendering="crispEdges"/><path d="M823.5,1064.5 V1066.5" stroke="#606060" stroke-width="1" shape-rendering="crispEdges"/><path d="M841.5,1064.5 V1066.5" stroke="#606060" stroke-width="1" shape-rendering="crispEdges"/><path d="M850.5,1064.5 V1066.5" stroke="#606060" stroke-width="1" shape-rendering="crispEdges"/><path d="M859.5,1064.5 V1066.5" stroke="#606060" stroke-width="1" shape-rendering="crispEdges"/><path d="M868.5,1064.5 V1066.5" stroke="#606060" stroke-width="1" shape-rendering="crispEdges"/><path d="M887.5,1064.5 V1066.5" stroke="#606060" stroke-width="1" shape-rendering="crispEdges"/><path d="M896.5,1064.5 V1066.5" stroke="#606060" stroke-width="1" shape-rendering="crispEdges"/><path d="M905.5,1064.5 V1066.5" stroke="#606060" stroke-width="1" shape-rendering="crispEdges"/><path d="M914.5,1064.5 V1066.5" stroke="#606060" stroke-width="1" shape-rendering="crispEdges"/><path d="M670.9,1053.4 L669.7,1054.5 L669.8,1056.2 L668.1,1056.1 L667.0,1057.3 L665.9,1056.1 L664.3,1056.2 L664.3,1054.5 L663.1,1053.4 L664.3,1052.3 L664.3,1050.6 L665.9,1050.7 L667.0,1049.5 L668.1,1050.7 L669.8,1050.6 L669.7,1052.3 Z" fill="#804000"/><path d="M677.6,1054.3 L676.4,1055.4 L676.4,1057.0 L674.8,1056.9 L673.7,1058.2 L672.6,1056.9 L670.9,1057.0 L671.0,1055.4 L669.8,1054.3 L671.0,1053.2 L670.9,1051.5 L672.6,1051.6 L673.7,1050.4 L674.8,1051.6 L676.4,1051.5 L676.4,1053.2 Z" fill="#804000"/><path d="M681.9,1052.2 L680.7,1053.3 L680.8,1055.0 L679.1,1054.9 L678.0,1056.1 L676.9,1054.9 L675.3,1055.0 L675.4,1053.3 L674.1,1052.2 L675.4,1051.1 L675.3,1049.5 L676.9,1049.6 L678.0,1048.3 L679.1,1049.6 L680.8,1049.5 L680.7,1051.1 Z" fill="#804000"/><path d="M684.8,1057.2 L683.6,1058.3 L683.7,1059.9 L682.0,1059.8 L680.9,1061.1 L679.8,1059.8 L678.2,1059.9 L678.3,1058.3 L677.0,1057.2 L678.3,1056.1 L678.2,1054.4 L679.8,1054.5 L680.9,1053.3 L682.0,1054.5 L683.7,1054.4 L683.6,1056.1 Z" fill="#804000"/><path d="M687.7,1053.4 L686.5,1054.5 L686.6,1056.2 L684.9,1056.1 L683.8,1057.3 L682.7,1056.1 L681.1,1056.2 L681.2,1054.5 L679.9,1053.4 L681.2,1052.3 L681.1,1050.6 L682.7,1050.7 L683.8,1049.5 L684.9,1050.7 L686.6,1050.6 L686.5,1052.3 Z" fill="#804000"/><path d="M690.6,1052.2 L689.4,1053.3 L689.5,1055.0 L687.8,1054.9 L686.7,1056.1 L685.6,1054.9 L684.0,1055.0 L684.1,1053.3 L682.8,1052.2 L684.1,1051.1 L684.0,1049.5 L685.6,1049.6 L686.7,1048.3 L687.8,1049.6 L689.5,1049.5 L689.4,1051.1 Z" fill="#804000"/><path d="M695.0,1051.4 L693.8,1052.5 L693.9,1054.1 L692.2,1054.0 L691.1,1055.3 L690.0,1054.0 L688.3,1054.1 L688.4,1052.5 L687.2,1051.4 L688.4,1050.3 L688.3,1048.6 L690.0,1048.7 L691.1,1047.5 L692.2,1048.7 L693.9,1048.6 L693.8,1050.3 Z" fill="#804000"/><path d="M697.9,1041.2 L696.7,1042.3 L696.8,1044.0 L695.1,1043.9 L694.0,1045.1 L692.9,1043.9 L691.2,1044.0 L691.3,1042.3 L690.1,1041.2 L691.3,1040.1 L691.2,1038.5 L692.9,1038.5 L694.0,1037.3 L695.1,1038.5 L696.8,1038.5 L696.7,1040.1 Z" fill="#804000"/><path d="M699.9,1032.5 L698.7,1033.6 L698.8,1035.3 L697.1,1035.2 L696.0,1036.4 L694.9,1035.2 L693.3,1035.3 L693.4,1033.6 L692.1,1032.5 L693.4,1031.4 L693.3,1029.7 L694.9,1029.8 L696.0,1028.6 L697.1,1029.8 L698.8,1029.7 L698.7,1031.4 Z" fill="#804000"/><path d="M708.1,1042.7 L706.8,1043.8 L706.9,1045.4 L705.3,1045.3 L704.2,1046.6 L703.1,1045.3 L701.4,1045.4 L701.5,1043.8 L700.3,1042.7 L701.5,1041.6 L701.4,1039.9 L703.1,1040.0 L704.2,1038.8 L705.3,1040.0 L706.9,1039.9 L706.8,1041.6 Z" fill="#804000"/><path d="M710.4,1035.4 L709.1,1036.5 L709.2,1038.2 L707.6,1038.1 L706.5,1039.3 L705.4,1038.1 L703.7,1038.2 L703.8,1036.5 L702.6,1035.4 L703.8,1034.3 L703.7,1032.7 L705.4,1032.7 L706.5,1031.5 L707.6,1032.7 L709.2,1032.7 L709.1,1034.3 Z" fill="#804000"/><path d="M716.8,1038.3 L715.5,1039.4 L715.6,1041.1 L714.0,1041.0 L712.9,1042.2 L711.8,1041.0 L710.1,1041.1 L710.2,1039.4 L709.0,1038.3 L710.2,1037.2 L710.1,1035.6 L711.8,1035.6 L712.9,1034.4 L714.0,1035.6 L715.6,1035.6 L715.5,1037.2 Z" fill="#804000"/><path d="M721.1,1043.5 L719.9,1044.6 L720.0,1046.3 L718.3,1046.2 L717.2,1047.4 L716.1,1046.2 L714.5,1046.3 L714.5,1044.6 L713.3,1043.5 L714.5,1042.4 L714.5,1040.8 L716.1,1040.9 L717.2,1039.6 L718.3,1040.9 L720.0,1040.8 L719.9,1042.4 Z" fill="#804000"/><path d="M728.9,1031.1 L727.7,1032.2 L727.8,1033.8 L726.2,1033.7 L725.0,1035.0 L723.9,1033.7 L722.3,1033.8 L722.4,1032.2 L721.1,1031.1 L722.4,1030.0 L722.3,1028.3 L723.9,1028.4 L725.0,1027.2 L726.2,1028.4 L727.8,1028.3 L727.7,1030.0 Z" fill="#804000"/><path d="M744.3,1012.8 L743.1,1013.9 L743.2,1015.5 L741.5,1015.4 L740.4,1016.7 L739.3,1015.4 L737.7,1015.5 L737.8,1013.9 L736.5,1012.8 L737.8,1011.7 L737.7,1010.0 L739.3,1010.1 L740.4,1008.9 L741.5,1010.1 L743.2,1010.0 L743.1,1011.7 Z" fill="#804000"/><path d="M755.1,977.4 L753.8,978.5 L753.9,980.1 L752.3,980.0 L751.2,981.3 L750.1,980.0 L748.4,980.1 L748.5,978.5 L747.3,977.4 L748.5,976.3 L748.4,974.6 L750.1,974.7 L751.2,973.5 L752.3,974.7 L753.9,974.6 L753.8,976.3 Z" fill="#804000"/><path d="M763.2,963.4 L762.0,964.5 L762.0,966.2 L760.4,966.1 L759.3,967.3 L758.2,966.1 L756.5,966.2 L756.6,964.5 L755.4,963.4 L756.6,962.3 L756.5,960.7 L758.2,960.8 L759.3,959.5 L760.4,960.8 L762.0,960.7 L762.0,962.3 Z" fill="#804000"/><path d="M766.1,958.5 L764.9,959.6 L765.0,961.3 L763.3,961.2 L762.2,962.4 L761.1,961.2 L759.4,961.3 L759.5,959.6 L758.3,958.5 L759.5,957.4 L759.4,955.8 L761.1,955.8 L762.2,954.6 L763.3,955.8 L765.0,955.8 L764.9,957.4 Z" fill="#804000"/><path d="M767.5,980.3 L766.3,981.4 L766.4,983.0 L764.7,982.9 L763.6,984.2 L762.5,982.9 L760.9,983.0 L761.0,981.4 L759.7,980.3 L761.0,979.2 L760.9,977.5 L762.5,977.6 L763.6,976.4 L764.7,977.6 L766.4,977.5 L766.3,979.2 Z" fill="#804000"/><path d="M770.4,989.0 L769.2,990.1 L769.3,991.7 L767.7,991.6 L766.5,992.9 L765.4,991.6 L763.8,991.7 L763.9,990.1 L762.6,989.0 L763.9,987.9 L763.8,986.2 L765.4,986.3 L766.5,985.1 L767.7,986.3 L769.3,986.2 L769.2,987.9 Z" fill="#804000"/><path d="M771.9,1002.0 L770.7,1003.1 L770.8,1004.8 L769.1,1004.7 L768.0,1005.9 L766.9,1004.7 L765.2,1004.8 L765.3,1003.1 L764.1,1002.0 L765.3,1000.9 L765.2,999.3 L766.9,999.4 L768.0,998.1 L769.1,999.4 L770.8,999.3 L770.7,1000.9 Z" fill="#804000"/><path d="M773.3,968.7 L772.1,969.8 L772.2,971.4 L770.6,971.3 L769.4,972.6 L768.3,971.3 L766.7,971.4 L766.8,969.8 L765.5,968.7 L766.8,967.6 L766.7,965.9 L768.3,966.0 L769.4,964.8 L770.6,966.0 L772.2,965.9 L772.1,967.6 Z" fill="#804000"/><path d="M774.8,996.2 L773.6,997.3 L773.7,999.0 L772.0,998.9 L770.9,1000.1 L769.8,998.9 L768.1,999.0 L768.2,997.3 L767.0,996.2 L768.2,995.1 L768.1,993.5 L769.8,993.6 L770.9,992.3 L772.0,993.6 L773.7,993.5 L773.6,995.1 Z" fill="#804000"/><path d="M776.3,957.1 L775.0,958.2 L775.1,959.8 L773.5,959.7 L772.4,961.0 L771.2,959.7 L769.6,959.8 L769.7,958.2 L768.5,957.1 L769.7,956.0 L769.6,954.3 L771.2,954.4 L772.4,953.2 L773.5,954.4 L775.1,954.3 L775.0,956.0 Z" fill="#804000"/><path d="M777.7,970.1 L776.5,971.2 L776.6,972.9 L774.9,972.8 L773.8,974.0 L772.7,972.8 L771.0,972.9 L771.1,971.2 L769.9,970.1 L771.1,969.0 L771.0,967.4 L772.7,967.4 L773.8,966.2 L774.9,967.4 L776.6,967.4 L776.5,969.0 Z" fill="#804000"/><path d="M779.2,980.3 L777.9,981.4 L778.0,983.0 L776.4,982.9 L775.3,984.2 L774.1,982.9 L772.5,983.0 L772.6,981.4 L771.4,980.3 L772.6,979.2 L772.5,977.5 L774.1,977.6 L775.3,976.4 L776.4,977.6 L778.0,977.5 L777.9,979.2 Z" fill="#804000"/><path d="M780.6,974.5 L779.4,975.6 L779.5,977.2 L777.8,977.1 L776.7,978.4 L775.6,977.1 L773.9,977.2 L774.0,975.6 L772.8,974.5 L774.0,973.4 L773.9,971.7 L775.6,971.8 L776.7,970.6 L777.8,971.8 L779.5,971.7 L779.4,973.4 Z" fill="#804000"/><path d="M782.1,989.0 L780.8,990.1 L780.9,991.7 L779.3,991.6 L778.2,992.9 L777.0,991.6 L775.4,991.7 L775.5,990.1 L774.3,989.0 L775.5,987.9 L775.4,986.2 L777.0,986.3 L778.2,985.1 L779.3,986.3 L780.9,986.2 L780.8,987.9 Z" fill="#804000"/><path d="M783.5,955.6 L782.3,956.7 L782.4,958.4 L780.7,958.3 L779.6,959.5 L778.5,958.3 L776.8,958.4 L776.9,956.7 L775.7,955.6 L776.9,954.5 L776.8,952.8 L778.5,952.9 L779.6,951.7 L780.7,952.9 L782.4,952.8 L782.3,954.5 Z" fill="#804000"/><path d="M785.0,951.3 L783.7,952.4 L783.8,954.0 L782.2,953.9 L781.1,955.2 L780.0,953.9 L778.3,954.0 L778.4,952.4 L777.2,951.3 L778.4,950.1 L778.3,948.5 L780.0,948.6 L781.1,947.4 L782.2,948.6 L783.8,948.5 L783.7,950.1 Z" fill="#804000"/><path d="M785.8,993.3 L784.6,994.4 L784.7,996.1 L783.0,996.0 L781.9,997.2 L780.8,996.0 L779.2,996.1 L779.3,994.4 L778.0,993.3 L779.3,992.2 L779.2,990.6 L780.8,990.7 L781.9,989.4 L783.0,990.7 L784.7,990.6 L784.6,992.2 Z" fill="#804000"/><path d="M787.0,975.9 L785.8,977.0 L785.8,978.7 L784.2,978.6 L783.1,979.8 L782.0,978.6 L780.3,978.7 L780.4,977.0 L779.2,975.9 L780.4,974.8 L780.3,973.2 L782.0,973.3 L783.1,972.0 L784.2,973.3 L785.8,973.2 L785.8,974.8 Z" fill="#804000"/><path d="M789.3,965.8 L788.1,966.9 L788.2,968.5 L786.5,968.4 L785.4,969.7 L784.3,968.4 L782.7,968.5 L782.7,966.9 L781.5,965.8 L782.7,964.7 L782.7,963.0 L784.3,963.1 L785.4,961.9 L786.5,963.1 L788.2,963.0 L788.1,964.7 Z" fill="#804000"/><path d="M790.8,958.5 L789.5,959.6 L789.6,961.3 L788.0,961.2 L786.9,962.4 L785.8,961.2 L784.1,961.3 L784.2,959.6 L783.0,958.5 L784.2,957.4 L784.1,955.8 L785.8,955.8 L786.9,954.6 L788.0,955.8 L789.6,955.8 L789.5,957.4 Z" fill="#804000"/><path d="M793.1,935.3 L791.8,936.4 L791.9,938.1 L790.3,938.0 L789.2,939.2 L788.1,938.0 L786.4,938.1 L786.5,936.4 L785.3,935.3 L786.5,934.2 L786.4,932.5 L788.1,932.6 L789.2,931.4 L790.3,932.6 L791.9,932.5 L791.8,934.2 Z" fill="#804000"/><path d="M793.7,945.4 L792.4,946.6 L792.5,948.2 L790.9,948.1 L789.8,949.3 L788.7,948.1 L787.0,948.2 L787.1,946.6 L785.9,945.4 L787.1,944.3 L787.0,942.7 L788.7,942.8 L789.8,941.5 L790.9,942.8 L792.5,942.7 L792.4,944.3 Z" fill="#804000"/><path d="M794.5,954.2 L793.3,955.3 L793.4,956.9 L791.7,956.8 L790.6,958.1 L789.5,956.8 L787.9,956.9 L788.0,955.3 L786.7,954.2 L788.0,953.1 L787.9,951.4 L789.5,951.5 L790.6,950.3 L791.7,951.5 L793.4,951.4 L793.3,953.1 Z" fill="#804000"/><path d="M795.1,975.0 L793.9,976.2 L794.0,977.8 L792.3,977.7 L791.2,978.9 L790.1,977.7 L788.5,977.8 L788.5,976.2 L787.3,975.0 L788.5,973.9 L788.5,972.3 L790.1,972.4 L791.2,971.1 L792.3,972.4 L794.0,972.3 L793.9,973.9 Z" fill="#804000"/><path d="M796.6,965.8 L795.3,966.9 L795.4,968.5 L793.8,968.4 L792.7,969.7 L791.6,968.4 L789.9,968.5 L790.0,966.9 L788.8,965.8 L790.0,964.7 L789.9,963.0 L791.6,963.1 L792.7,961.9 L793.8,963.1 L795.4,963.0 L795.3,964.7 Z" fill="#804000"/><path d="M798.0,941.1 L796.8,942.2 L796.9,943.9 L795.2,943.8 L794.1,945.0 L793.0,943.8 L791.4,943.9 L791.4,942.2 L790.2,941.1 L791.4,940.0 L791.4,938.3 L793.0,938.4 L794.1,937.2 L795.2,938.4 L796.9,938.3 L796.8,940.0 Z" fill="#804000"/><path d="M799.5,926.6 L798.2,927.7 L798.3,929.3 L796.7,929.3 L795.6,930.5 L794.5,929.3 L792.8,929.3 L792.9,927.7 L791.7,926.6 L792.9,925.5 L792.8,923.8 L794.5,923.9 L795.6,922.7 L796.7,923.9 L798.3,923.8 L798.2,925.5 Z" fill="#804000"/><path d="M802.4,987.5 L801.1,988.6 L801.2,990.3 L799.6,990.2 L798.5,991.4 L797.4,990.2 L795.7,990.3 L795.8,988.6 L794.6,987.5 L795.8,986.4 L795.7,984.8 L797.4,984.9 L798.5,983.6 L799.6,984.9 L801.2,984.8 L801.1,986.4 Z" fill="#804000"/><path d="M803.8,944.0 L802.6,945.1 L802.7,946.8 L801.0,946.7 L799.9,947.9 L798.8,946.7 L797.2,946.8 L797.3,945.1 L796.0,944.0 L797.3,942.9 L797.2,941.2 L798.8,941.3 L799.9,940.1 L801.0,941.3 L802.7,941.2 L802.6,942.9 Z" fill="#804000"/><path d="M806.7,973.0 L805.5,974.1 L805.6,975.8 L803.9,975.7 L802.8,976.9 L801.7,975.7 L800.1,975.8 L800.2,974.1 L798.9,973.0 L800.2,971.9 L800.1,970.3 L801.7,970.4 L802.8,969.1 L803.9,970.4 L805.6,970.3 L805.5,971.9 Z" fill="#804000"/><path d="M811.1,978.8 L809.8,979.9 L809.9,981.6 L808.3,981.5 L807.2,982.7 L806.1,981.5 L804.4,981.6 L804.5,979.9 L803.3,978.8 L804.5,977.7 L804.4,976.1 L806.1,976.2 L807.2,974.9 L808.3,976.2 L809.9,976.1 L809.8,977.7 Z" fill="#804000"/><path d="M812.5,937.3 L811.3,938.4 L811.4,940.1 L809.7,940.0 L808.6,941.2 L807.5,940.0 L805.9,940.1 L806.0,938.4 L804.7,937.3 L806.0,936.2 L805.9,934.6 L807.5,934.7 L808.6,933.4 L809.7,934.7 L811.4,934.6 L811.3,936.2 Z" fill="#804000"/><path d="M814.0,917.0 L812.7,918.1 L812.8,919.8 L811.2,919.7 L810.1,920.9 L809.0,919.7 L807.3,919.8 L807.4,918.1 L806.2,917.0 L807.4,915.9 L807.3,914.3 L809.0,914.3 L810.1,913.1 L811.2,914.3 L812.8,914.3 L812.7,915.9 Z" fill="#804000"/><path d="M816.9,981.7 L815.6,982.8 L815.7,984.5 L814.1,984.4 L813.0,985.6 L811.9,984.4 L810.2,984.5 L810.3,982.8 L809.1,981.7 L810.3,980.6 L810.2,979.0 L811.9,979.1 L813.0,977.8 L814.1,979.1 L815.7,979.0 L815.6,980.6 Z" fill="#804000"/><path d="M818.3,982.6 L817.1,983.7 L817.2,985.4 L815.5,985.3 L814.4,986.5 L813.3,985.3 L811.7,985.4 L811.8,983.7 L810.5,982.6 L811.8,981.5 L811.7,979.8 L813.3,979.9 L814.4,978.7 L815.5,979.9 L817.2,979.8 L817.1,981.5 Z" fill="#804000"/><path d="M821.2,957.1 L820.0,958.2 L820.1,959.8 L818.4,959.7 L817.3,961.0 L816.2,959.7 L814.6,959.8 L814.7,958.2 L813.4,957.1 L814.7,956.0 L814.6,954.3 L816.2,954.4 L817.3,953.2 L818.4,954.4 L820.1,954.3 L820.0,956.0 Z" fill="#804000"/><path d="M822.7,929.5 L821.4,930.6 L821.5,932.2 L819.9,932.2 L818.8,933.4 L817.7,932.2 L816.0,932.2 L816.1,930.6 L814.9,929.5 L816.1,928.4 L816.0,926.7 L817.7,926.8 L818.8,925.6 L819.9,926.8 L821.5,926.7 L821.4,928.4 Z" fill="#804000"/><path d="M823.6,962.9 L822.3,964.0 L822.4,965.6 L820.8,965.5 L819.7,966.8 L818.5,965.5 L816.9,965.6 L817.0,964.0 L815.8,962.9 L817.0,961.8 L816.9,960.1 L818.5,960.2 L819.7,959.0 L820.8,960.2 L822.4,960.1 L822.3,961.8 Z" fill="#804000"/><path d="M826.2,919.9 L824.9,921.0 L825.0,922.7 L823.4,922.6 L822.3,923.8 L821.2,922.6 L819.5,922.7 L819.6,921.0 L818.4,919.9 L819.6,918.8 L819.5,917.2 L821.2,917.2 L822.3,916.0 L823.4,917.2 L825.0,917.2 L824.9,918.8 Z" fill="#804000"/><path d="M828.5,942.5 L827.3,943.7 L827.3,945.3 L825.7,945.2 L824.6,946.4 L823.5,945.2 L821.8,945.3 L821.9,943.7 L820.7,942.5 L821.9,941.4 L821.8,939.8 L823.5,939.9 L824.6,938.6 L825.7,939.9 L827.3,939.8 L827.3,941.4 Z" fill="#804000"/><path d="M831.4,909.2 L830.2,910.3 L830.2,911.9 L828.6,911.8 L827.5,913.1 L826.4,911.8 L824.7,911.9 L824.8,910.3 L823.6,909.2 L824.8,908.1 L824.7,906.4 L826.4,906.5 L827.5,905.3 L828.6,906.5 L830.2,906.4 L830.2,908.1 Z" fill="#804000"/><path d="M835.7,922.2 L834.5,923.3 L834.6,925.0 L832.9,924.9 L831.8,926.1 L830.7,924.9 L829.1,925.0 L829.2,923.3 L827.9,922.2 L829.2,921.1 L829.1,919.5 L830.7,919.6 L831.8,918.3 L832.9,919.6 L834.6,919.5 L834.5,921.1 Z" fill="#804000"/><path d="M896.7,880.2 L895.4,881.3 L895.5,882.9 L893.9,882.8 L892.8,884.1 L891.7,882.8 L890.0,882.9 L890.1,881.3 L888.9,880.2 L890.1,879.1 L890.0,877.4 L891.7,877.5 L892.8,876.3 L893.9,877.5 L895.5,877.4 L895.4,879.1 Z" fill="#804000"/><path d="M919.9,888.9 L918.7,890.0 L918.8,891.6 L917.1,891.5 L916.0,892.8 L914.9,891.5 L913.2,891.6 L913.3,890.0 L912.1,888.9 L913.3,887.8 L913.2,886.1 L914.9,886.2 L916.0,885.0 L917.1,886.2 L918.8,886.1 L918.7,887.8 Z" fill="#804000"/><path d="M772.5,965.8 L771.2,966.9 L771.3,968.5 L769.7,968.4 L768.6,969.7 L767.5,968.4 L765.8,968.5 L765.9,966.9 L764.7,965.8 L765.9,964.7 L765.8,963.0 L767.5,963.1 L768.6,961.9 L769.7,963.1 L771.3,963.0 L771.2,964.7 Z" fill="#804000"/><path d="M771.3,971.6 L770.1,972.7 L770.2,974.3 L768.5,974.2 L767.4,975.5 L766.3,974.2 L764.7,974.3 L764.8,972.7 L763.5,971.6 L764.8,970.5 L764.7,968.8 L766.3,968.9 L767.4,967.7 L768.5,968.9 L770.2,968.8 L770.1,970.5 Z" fill="#804000"/><path d="M774.2,974.5 L773.0,975.6 L773.1,977.2 L771.4,977.1 L770.3,978.4 L769.2,977.1 L767.6,977.2 L767.7,975.6 L766.4,974.5 L767.7,973.4 L767.6,971.7 L769.2,971.8 L770.3,970.6 L771.4,971.8 L773.1,971.7 L773.0,973.4 Z" fill="#804000"/><path d="M769.0,983.2 L767.8,984.3 L767.9,985.9 L766.2,985.8 L765.1,987.1 L764.0,985.8 L762.3,985.9 L762.4,984.3 L761.2,983.2 L762.4,982.1 L762.3,980.4 L764.0,980.5 L765.1,979.3 L766.2,980.5 L767.9,980.4 L767.8,982.1 Z" fill="#804000"/><path d="M777.1,991.9 L775.9,993.0 L776.0,994.6 L774.3,994.5 L773.2,995.8 L772.1,994.5 L770.5,994.6 L770.6,993.0 L769.3,991.9 L770.6,990.8 L770.5,989.1 L772.1,989.2 L773.2,988.0 L774.3,989.2 L776.0,989.1 L775.9,990.8 Z" fill="#804000"/><path d="M713.9,1026.7 L712.6,1027.8 L712.7,1029.5 L711.1,1029.4 L710.0,1030.6 L708.9,1029.4 L707.2,1029.5 L707.3,1027.8 L706.1,1026.7 L707.3,1025.6 L707.2,1023.9 L708.9,1024.0 L710.0,1022.8 L711.1,1024.0 L712.7,1023.9 L712.6,1025.6 Z" fill="#ff0000"/><path d="M715.3,1029.0 L714.1,1030.1 L714.2,1031.8 L712.5,1031.7 L711.4,1032.9 L710.3,1031.7 L708.7,1031.8 L708.7,1030.1 L707.5,1029.0 L708.7,1027.9 L708.7,1026.3 L710.3,1026.4 L711.4,1025.1 L712.5,1026.4 L714.2,1026.3 L714.1,1027.9 Z" fill="#ff0000"/><path d="M716.8,1034.0 L715.5,1035.1 L715.6,1036.7 L714.0,1036.6 L712.9,1037.9 L711.8,1036.6 L710.1,1036.7 L710.2,1035.1 L709.0,1034.0 L710.2,1032.9 L710.1,1031.2 L711.8,1031.3 L712.9,1030.1 L714.0,1031.3 L715.6,1031.2 L715.5,1032.9 Z" fill="#ff0000"/><path d="M716.2,1042.7 L714.9,1043.8 L715.0,1045.4 L713.4,1045.3 L712.3,1046.6 L711.2,1045.3 L709.5,1045.4 L709.6,1043.8 L708.4,1042.7 L709.6,1041.6 L709.5,1039.9 L711.2,1040.0 L712.3,1038.8 L713.4,1040.0 L715.0,1039.9 L714.9,1041.6 Z" fill="#ff0000"/><path d="M719.7,1018.0 L718.4,1019.1 L718.5,1020.8 L716.9,1020.7 L715.8,1021.9 L714.7,1020.7 L713.0,1020.8 L713.1,1019.1 L711.9,1018.0 L713.1,1016.9 L713.0,1015.2 L714.7,1015.3 L715.8,1014.1 L716.9,1015.3 L718.5,1015.2 L718.4,1016.9 Z" fill="#ff0000"/><path d="M721.1,1014.5 L719.9,1015.6 L720.0,1017.3 L718.3,1017.2 L717.2,1018.4 L716.1,1017.2 L714.5,1017.3 L714.5,1015.6 L713.3,1014.5 L714.5,1013.4 L714.5,1011.8 L716.1,1011.8 L717.2,1010.6 L718.3,1011.8 L720.0,1011.8 L719.9,1013.4 Z" fill="#ff0000"/><path d="M722.6,1015.7 L721.3,1016.8 L721.4,1018.4 L719.8,1018.3 L718.7,1019.6 L717.6,1018.3 L715.9,1018.4 L716.0,1016.8 L714.8,1015.7 L716.0,1014.6 L715.9,1012.9 L717.6,1013.0 L718.7,1011.8 L719.8,1013.0 L721.4,1012.9 L721.3,1014.6 Z" fill="#ff0000"/><path d="M725.5,1015.1 L724.2,1016.2 L724.3,1017.9 L722.7,1017.8 L721.6,1019.0 L720.5,1017.8 L718.8,1017.9 L718.9,1016.2 L717.7,1015.1 L718.9,1014.0 L718.8,1012.3 L720.5,1012.4 L721.6,1011.2 L722.7,1012.4 L724.3,1012.3 L724.2,1014.0 Z" fill="#ff0000"/><path d="M726.9,1012.8 L725.7,1013.9 L725.8,1015.5 L724.1,1015.4 L723.0,1016.7 L721.9,1015.4 L720.3,1015.5 L720.4,1013.9 L719.1,1012.8 L720.4,1011.7 L720.3,1010.0 L721.9,1010.1 L723.0,1008.9 L724.1,1010.1 L725.8,1010.0 L725.7,1011.7 Z" fill="#ff0000"/><path d="M729.8,1011.6 L728.6,1012.7 L728.7,1014.4 L727.0,1014.3 L725.9,1015.5 L724.8,1014.3 L723.2,1014.4 L723.3,1012.7 L722.0,1011.6 L723.3,1010.5 L723.2,1008.9 L724.8,1008.9 L725.9,1007.7 L727.0,1008.9 L728.7,1008.9 L728.6,1010.5 Z" fill="#ff0000"/><path d="M731.3,998.6 L730.0,999.7 L730.1,1001.3 L728.5,1001.2 L727.4,1002.5 L726.3,1001.2 L724.6,1001.3 L724.7,999.7 L723.5,998.6 L724.7,997.5 L724.6,995.8 L726.3,995.9 L727.4,994.7 L728.5,995.9 L730.1,995.8 L730.0,997.5 Z" fill="#ff0000"/><path d="M732.7,1016.5 L731.5,1017.7 L731.6,1019.3 L729.9,1019.2 L728.8,1020.4 L727.7,1019.2 L726.1,1019.3 L726.2,1017.7 L724.9,1016.5 L726.2,1015.4 L726.1,1013.8 L727.7,1013.9 L728.8,1012.6 L729.9,1013.9 L731.6,1013.8 L731.5,1015.4 Z" fill="#ff0000"/><path d="M734.2,1009.3 L732.9,1010.4 L733.0,1012.0 L731.4,1012.0 L730.3,1013.2 L729.2,1012.0 L727.5,1012.0 L727.6,1010.4 L726.4,1009.3 L727.6,1008.2 L727.5,1006.5 L729.2,1006.6 L730.3,1005.4 L731.4,1006.6 L733.0,1006.5 L732.9,1008.2 Z" fill="#ff0000"/><path d="M735.6,1002.0 L734.4,1003.1 L734.5,1004.8 L732.8,1004.7 L731.7,1005.9 L730.6,1004.7 L729.0,1004.8 L729.1,1003.1 L727.8,1002.0 L729.1,1000.9 L729.0,999.3 L730.6,999.4 L731.7,998.1 L732.8,999.4 L734.5,999.3 L734.4,1000.9 Z" fill="#ff0000"/><path d="M738.5,997.7 L737.3,998.8 L737.4,1000.4 L735.7,1000.4 L734.6,1001.6 L733.5,1000.4 L731.9,1000.4 L732.0,998.8 L730.7,997.7 L732.0,996.6 L731.9,994.9 L733.5,995.0 L734.6,993.8 L735.7,995.0 L737.4,994.9 L737.3,996.6 Z" fill="#ff0000"/><path d="M745.8,999.1 L744.5,1000.2 L744.6,1001.9 L743.0,1001.8 L741.9,1003.0 L740.8,1001.8 L739.1,1001.9 L739.2,1000.2 L738.0,999.1 L739.2,998.0 L739.1,996.4 L740.8,996.5 L741.9,995.2 L743.0,996.5 L744.6,996.4 L744.5,998.0 Z" fill="#ff0000"/><path d="M750.1,1018.0 L748.9,1019.1 L749.0,1020.8 L747.3,1020.7 L746.2,1021.9 L745.1,1020.7 L743.5,1020.8 L743.6,1019.1 L742.3,1018.0 L743.6,1016.9 L743.5,1015.2 L745.1,1015.3 L746.2,1014.1 L747.3,1015.3 L749.0,1015.2 L748.9,1016.9 Z" fill="#ff0000"/><path d="M755.1,1011.6 L753.8,1012.7 L753.9,1014.4 L752.3,1014.3 L751.2,1015.5 L750.1,1014.3 L748.4,1014.4 L748.5,1012.7 L747.3,1011.6 L748.5,1010.5 L748.4,1008.9 L750.1,1008.9 L751.2,1007.7 L752.3,1008.9 L753.9,1008.9 L753.8,1010.5 Z" fill="#ff0000"/><path d="M763.2,978.8 L762.0,979.9 L762.0,981.6 L760.4,981.5 L759.3,982.7 L758.2,981.5 L756.5,981.6 L756.6,979.9 L755.4,978.8 L756.6,977.7 L756.5,976.1 L758.2,976.2 L759.3,974.9 L760.4,976.2 L762.0,976.1 L762.0,977.7 Z" fill="#ff0000"/><path d="M766.1,1000.6 L764.9,1001.7 L765.0,1003.3 L763.3,1003.3 L762.2,1004.5 L761.1,1003.3 L759.4,1003.3 L759.5,1001.7 L758.3,1000.6 L759.5,999.5 L759.4,997.8 L761.1,997.9 L762.2,996.7 L763.3,997.9 L765.0,997.8 L764.9,999.5 Z" fill="#ff0000"/><path d="M785.0,981.7 L783.7,982.8 L783.8,984.5 L782.2,984.4 L781.1,985.6 L780.0,984.4 L778.3,984.5 L778.4,982.8 L777.2,981.7 L778.4,980.6 L778.3,979.0 L780.0,979.1 L781.1,977.8 L782.2,979.1 L783.8,979.0 L783.7,980.6 Z" fill="#ff0000"/><path d="M789.3,971.0 L788.1,972.1 L788.2,973.7 L786.5,973.7 L785.4,974.9 L784.3,973.7 L782.7,973.7 L782.7,972.1 L781.5,971.0 L782.7,969.9 L782.7,968.2 L784.3,968.3 L785.4,967.1 L786.5,968.3 L788.2,968.2 L788.1,969.9 Z" fill="#ff0000"/><path d="M667.9,1053.4 L917.4,887.4" stroke="#ff0000" stroke-width="2.2" fill="none"/></svg>
<div class="t" style="left:-186.5px;width:400px;text-align:right;top:685.1px;font-size:11px;line-height:14.3px;color:#000;font-weight:normal;">30</div>
<div class="t" style="left:-186.5px;width:400px;text-align:right;top:717.6px;font-size:11px;line-height:14.3px;color:#000;font-weight:normal;">25</div>
<div class="t" style="left:-186.5px;width:400px;text-align:right;top:751.6px;font-size:11px;line-height:14.3px;color:#000;font-weight:normal;">20</div>
<div class="t" style="left:-186.5px;width:400px;text-align:right;top:785.6px;font-size:11px;line-height:14.3px;color:#000;font-weight:normal;">15</div>
<div class="t" style="left:-186.5px;width:400px;text-align:right;top:819.2px;font-size:11px;line-height:14.3px;color:#000;font-weight:normal;">10</div>
<div class="t" style="left:-186.5px;width:400px;text-align:right;top:888.1px;font-size:11px;line-height:14.3px;color:#000;font-weight:normal;">4.5</div>
<div class="t" style="left:-186.5px;width:400px;text-align:right;top:908.9px;font-size:11px;line-height:14.3px;color:#000;font-weight:normal;">4</div>
<div class="t" style="left:-186.5px;width:400px;text-align:right;top:930.1px;font-size:11px;line-height:14.3px;color:#000;font-weight:normal;">3.5</div>
<div class="t" style="left:-186.5px;width:400px;text-align:right;top:950.4px;font-size:11px;line-height:14.3px;color:#000;font-weight:normal;">3</div>
<div class="t" style="left:-186.5px;width:400px;text-align:right;top:970.4px;font-size:11px;line-height:14.3px;color:#000;font-weight:normal;">2.5</div>
<div class="t" style="left:-186.5px;width:400px;text-align:right;top:990.6px;font-size:11px;line-height:14.3px;color:#000;font-weight:normal;">2</div>
<div class="t" style="left:-186.5px;width:400px;text-align:right;top:1011.9px;font-size:11px;line-height:14.3px;color:#000;font-weight:normal;">1.5</div>
<div class="t" style="left:-186.5px;width:400px;text-align:right;top:1033.0px;font-size:11px;line-height:14.3px;color:#000;font-weight:normal;">1</div>
<div class="t" style="left:-186.5px;width:400px;text-align:right;top:1053.4px;font-size:11px;line-height:14.3px;color:#000;font-weight:normal;">0.5</div>
<div class="t" style="left:58.5px;width:400px;text-align:center;top:857.9px;font-size:11px;line-height:14.3px;color:#000;font-weight:normal;">12:55</div>
<div class="t" style="left:138.60000000000002px;width:400px;text-align:center;top:857.9px;font-size:11px;line-height:14.3px;color:#000;font-weight:normal;">13:00</div>
<div class="t" style="left:218px;width:400px;text-align:center;top:857.9px;font-size:11px;line-height:14.3px;color:#000;font-weight:normal;">13:05</div>
<div class="t" style="left:297.5px;width:400px;text-align:center;top:857.9px;font-size:11px;line-height:14.3px;color:#000;font-weight:normal;">13:10</div>
<div class="t" style="left:377px;width:400px;text-align:center;top:857.9px;font-size:11px;line-height:14.3px;color:#000;font-weight:normal;">13:15</div>
<div class="t" style="left:58.5px;width:400px;text-align:center;top:1071.2px;font-size:11px;line-height:14.3px;color:#000;font-weight:normal;">12:55</div>
<div class="t" style="left:138.60000000000002px;width:400px;text-align:center;top:1071.2px;font-size:11px;line-height:14.3px;color:#000;font-weight:normal;">13:00</div>
<div class="t" style="left:218px;width:400px;text-align:center;top:1071.2px;font-size:11px;line-height:14.3px;color:#000;font-weight:normal;">13:05</div>
<div class="t" style="left:297.5px;width:400px;text-align:center;top:1071.2px;font-size:11px;line-height:14.3px;color:#000;font-weight:normal;">13:10</div>
<div class="t" style="left:377px;width:400px;text-align:center;top:1071.2px;font-size:11px;line-height:14.3px;color:#000;font-weight:normal;">13:15</div>
<div class="t" style="left:220.89999999999998px;width:400px;text-align:center;top:872.3px;font-size:13px;line-height:16.9px;color:#000;font-weight:bold;">Time [min]</div>
<div class="t" style="left:220.89999999999998px;width:400px;text-align:center;top:1084.8px;font-size:13px;line-height:16.9px;color:#000;font-weight:bold;">Time [min]</div>
<div class="t" style="left:91.5px;top:748.6px;width:200px;height:16px;line-height:16px;text-align:center;font-size:13px;font-weight:bold;color:#000;transform:rotate(-90deg);">ICP [mmHg]</div>
<div class="t" style="left:89.5px;top:960px;width:200px;height:16px;line-height:16px;text-align:center;font-size:13px;font-weight:bold;color:#000;transform:rotate(-90deg);">Amp [mmHg]</div>
<div class="t" style="left:255.5px;width:400px;text-align:right;top:838.1px;font-size:11px;line-height:14.3px;color:#000;font-weight:normal;">1</div>
<div class="t" style="left:255.5px;width:400px;text-align:right;top:821.3px;font-size:11px;line-height:14.3px;color:#000;font-weight:normal;">2</div>
<div class="t" style="left:255.5px;width:400px;text-align:right;top:804.5px;font-size:11px;line-height:14.3px;color:#000;font-weight:normal;">3</div>
<div class="t" style="left:255.5px;width:400px;text-align:right;top:787.7px;font-size:11px;line-height:14.3px;color:#000;font-weight:normal;">4</div>
<div class="t" style="left:255.5px;width:400px;text-align:right;top:770.8px;font-size:11px;line-height:14.3px;color:#000;font-weight:normal;">5</div>
<div class="t" style="left:255.5px;width:400px;text-align:right;top:754.0px;font-size:11px;line-height:14.3px;color:#000;font-weight:normal;">6</div>
<div class="t" style="left:255.5px;width:400px;text-align:right;top:737.2px;font-size:11px;line-height:14.3px;color:#000;font-weight:normal;">7</div>
<div class="t" style="left:255.5px;width:400px;text-align:right;top:720.3px;font-size:11px;line-height:14.3px;color:#000;font-weight:normal;">8</div>
<div class="t" style="left:255.5px;width:400px;text-align:right;top:703.5px;font-size:11px;line-height:14.3px;color:#000;font-weight:normal;">9</div>
<div class="t" style="left:255.5px;width:400px;text-align:right;top:686.7px;font-size:11px;line-height:14.3px;color:#000;font-weight:normal;">10</div>
<div class="t" style="left:255.5px;width:400px;text-align:right;top:669.9px;font-size:11px;line-height:14.3px;color:#000;font-weight:normal;">11</div>
<div class="t" style="left:467.29999999999995px;width:400px;text-align:center;top:858.1px;font-size:11px;line-height:14.3px;color:#000;font-weight:normal;">0</div>
<div class="t" style="left:492.68999999999994px;width:400px;text-align:center;top:858.1px;font-size:11px;line-height:14.3px;color:#000;font-weight:normal;">1</div>
<div class="t" style="left:518.0799999999999px;width:400px;text-align:center;top:858.1px;font-size:11px;line-height:14.3px;color:#000;font-weight:normal;">2</div>
<div class="t" style="left:543.4699999999999px;width:400px;text-align:center;top:858.1px;font-size:11px;line-height:14.3px;color:#000;font-weight:normal;">3</div>
<div class="t" style="left:568.8599999999999px;width:400px;text-align:center;top:858.1px;font-size:11px;line-height:14.3px;color:#000;font-weight:normal;">4</div>
<div class="t" style="left:594.25px;width:400px;text-align:center;top:858.1px;font-size:11px;line-height:14.3px;color:#000;font-weight:normal;">5</div>
<div class="t" style="left:619.64px;width:400px;text-align:center;top:858.1px;font-size:11px;line-height:14.3px;color:#000;font-weight:normal;">6</div>
<div class="t" style="left:645.03px;width:400px;text-align:center;top:858.1px;font-size:11px;line-height:14.3px;color:#000;font-weight:normal;">7</div>
<div class="t" style="left:670.42px;width:400px;text-align:center;top:858.1px;font-size:11px;line-height:14.3px;color:#000;font-weight:normal;">8</div>
<div class="t" style="left:695.81px;width:400px;text-align:center;top:858.1px;font-size:11px;line-height:14.3px;color:#000;font-weight:normal;">9</div>
<div class="t" style="left:721.1999999999999px;width:400px;text-align:center;top:858.1px;font-size:11px;line-height:14.3px;color:#000;font-weight:normal;">10</div>
<div class="t" style="left:591.2px;width:400px;text-align:center;top:872.2px;font-size:13px;line-height:16.9px;color:#000;font-weight:bold;">Volume [ml]</div>
<div class="t" style="left:534px;top:749.4px;width:200px;height:16px;line-height:16px;text-align:center;font-size:13px;font-weight:bold;color:#000;transform:rotate(-90deg);">(P-Pss)/(Pb-Pss)&nbsp;&nbsp;[1/1]</div>
<div class="t" style="left:255.5px;width:400px;text-align:right;top:1051.4px;font-size:11px;line-height:14.3px;color:#000;font-weight:normal;">0.5</div>
<div class="t" style="left:255.5px;width:400px;text-align:right;top:1031.6px;font-size:11px;line-height:14.3px;color:#000;font-weight:normal;">1</div>
<div class="t" style="left:255.5px;width:400px;text-align:right;top:1011.8px;font-size:11px;line-height:14.3px;color:#000;font-weight:normal;">1.5</div>
<div class="t" style="left:255.5px;width:400px;text-align:right;top:992.0px;font-size:11px;line-height:14.3px;color:#000;font-weight:normal;">2</div>
<div class="t" style="left:255.5px;width:400px;text-align:right;top:972.2px;font-size:11px;line-height:14.3px;color:#000;font-weight:normal;">2.5</div>
<div class="t" style="left:255.5px;width:400px;text-align:right;top:952.4px;font-size:11px;line-height:14.3px;color:#000;font-weight:normal;">3</div>
<div class="t" style="left:255.5px;width:400px;text-align:right;top:932.6px;font-size:11px;line-height:14.3px;color:#000;font-weight:normal;">3.5</div>
<div class="t" style="left:255.5px;width:400px;text-align:right;top:912.8px;font-size:11px;line-height:14.3px;color:#000;font-weight:normal;">4</div>
<div class="t" style="left:255.5px;width:400px;text-align:right;top:893.0px;font-size:11px;line-height:14.3px;color:#000;font-weight:normal;">4.5</div>
<div class="t" style="left:255.5px;width:400px;text-align:right;top:873.2px;font-size:11px;line-height:14.3px;color:#000;font-weight:normal;">5</div>
<div class="t" style="left:494.0px;width:400px;text-align:center;top:1071.2px;font-size:11px;line-height:14.3px;color:#000;font-weight:normal;">10</div>
<div class="t" style="left:539.9px;width:400px;text-align:center;top:1071.2px;font-size:11px;line-height:14.3px;color:#000;font-weight:normal;">15</div>
<div class="t" style="left:585.8px;width:400px;text-align:center;top:1071.2px;font-size:11px;line-height:14.3px;color:#000;font-weight:normal;">20</div>
<div class="t" style="left:631.7px;width:400px;text-align:center;top:1071.2px;font-size:11px;line-height:14.3px;color:#000;font-weight:normal;">25</div>
<div class="t" style="left:677.6px;width:400px;text-align:center;top:1071.2px;font-size:11px;line-height:14.3px;color:#000;font-weight:normal;">30</div>
<div class="t" style="left:591.2px;width:400px;text-align:center;top:1085.0px;font-size:13px;line-height:16.9px;color:#000;font-weight:bold;">ICP [mmHg]</div>
<div class="t" style="left:531px;top:962px;width:200px;height:16px;line-height:16px;text-align:center;font-size:13px;font-weight:bold;color:#000;transform:rotate(-90deg);">Amp [mmHg]</div>
<div style="position:absolute;left:181.5px;top:1130.5px;width:72.0px;height:22px;box-sizing:border-box;border:1px solid #3399ff;background:linear-gradient(#f0f0f0,#e5e5e5);"></div>
<div style="position:absolute;left:183.5px;top:1132.5px;width:68.0px;height:18px;box-sizing:border-box;border:1px dotted #000;"></div>
<div style="position:absolute;left:269.5px;top:1130.5px;width:72.0px;height:22px;box-sizing:border-box;border:1px solid #adadad;background:linear-gradient(#f0f0f0,#e5e5e5);"></div>
<div style="position:absolute;left:357px;top:1130.5px;width:86.5px;height:22px;box-sizing:border-box;border:1px solid #adadad;background:linear-gradient(#f0f0f0,#e5e5e5);"></div>
<div class="t" style="left:215px;top:1133px;font-size:11px;line-height:16px;"><u>C</u>lose</div>
<div class="t" style="left:302.5px;top:1134.1px;font-size:11px;line-height:14.3px;color:#000;font-weight:normal;">Print...</div>
<div class="t" style="left:399.3px;top:1134.1px;font-size:11px;line-height:14.3px;color:#000;font-weight:normal;">Copy</div>
<svg width="30" height="22" style="left:192px;top:1130px"><rect x="12" y="2" width="4" height="2" fill="#20a020"/><rect x="9" y="4" width="10" height="2" fill="#000"/><rect x="10" y="6" width="4" height="13" fill="#e020e0" stroke="#000040" stroke-width="0.8"/><rect x="14" y="6" width="4" height="13" fill="#c0e8f0" stroke="#000040" stroke-width="0.8"/><path d="M4,20 H24" stroke="#000080" stroke-width="1.5"/></svg>
<svg width="26" height="22" style="left:280px;top:1131px"><path d="M7,3 H16 L17,8 H6 Z" fill="#fff" stroke="#333" stroke-width="0.8"/><path d="M8,4 H15 M8,6 H15" stroke="#3050d0" stroke-width="1"/><rect x="2" y="8" width="18" height="8" rx="2" fill="#606060" stroke="#202020" stroke-width="0.8"/><rect x="4" y="14" width="14" height="4" fill="#d0d0d0" stroke="#202020" stroke-width="0.6"/><rect x="13" y="11" width="3" height="1.5" fill="#e02020"/></svg>
<svg width="24" height="22" style="left:377px;top:1131px"><rect x="2" y="4" width="14" height="15" rx="1" fill="#c8b048" stroke="#404000" stroke-width="0.8"/><rect x="6" y="2" width="6" height="4" fill="#808080" stroke="#303030" stroke-width="0.6"/><rect x="9" y="10" width="10" height="9" fill="#fff" stroke="#2030a0" stroke-width="1"/><path d="M11,14 H17 M11,16 H17" stroke="#2030a0" stroke-width="1"/></svg>
<div class="t" style="left:806px;top:1134.1px;font-size:11px;line-height:14.3px;color:#000;font-weight:normal;">P/V curve log scale</div>
<div style="position:absolute;left:914px;top:1135px;width:13px;height:13px;box-sizing:border-box;border:1px solid #333;background:#fff;"></div>
